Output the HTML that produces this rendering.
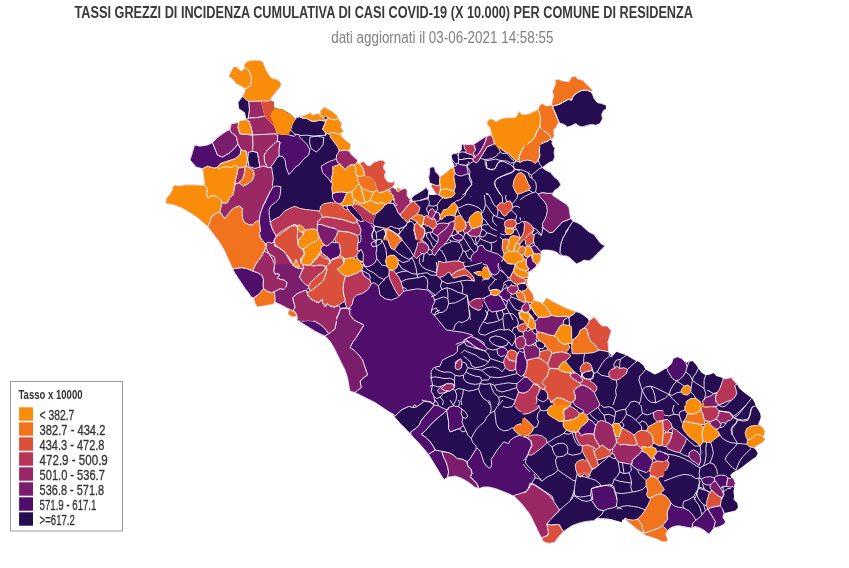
<!DOCTYPE html>
<html lang="it"><head><meta charset="utf-8"><title>Tassi grezzi di incidenza cumulativa</title>
<style>
html,body{margin:0;padding:0;background:#fff;}
body{width:849px;height:568px;overflow:hidden;}
svg{display:block;font-family:"Liberation Sans",sans-serif;}
.map polygon,.map path,.map polyline{stroke:#f3ecf7;stroke-opacity:.9;stroke-width:1.0;stroke-linejoin:round;}
.map path:first-child,.map path.n{stroke:none;}
</style></head><body>
<svg width="849" height="568" viewBox="0 0 849 568">
<rect width="849" height="568" fill="#fff"/>
<text x="74.5" y="17.7" font-size="15.8" font-weight="bold" fill="#3a3a3a" textLength="618.5" lengthAdjust="spacingAndGlyphs">TASSI GREZZI DI INCIDENZA CUMULATIVA DI CASI COVID-19 (X 10.000) PER COMUNE DI RESIDENZA</text>
<text x="331.2" y="43.4" font-size="16" fill="#808080" textLength="222.2" lengthAdjust="spacingAndGlyphs">dati aggiornati il 03-06-2021 14:58:55</text>
<g class="map">
<path d="M202.9,185.1 185.1,184.8 179.3,185.9 175.1,185.1 172.6,186.8 172.6,189.3 170.9,192.6 165.9,199.3 165.9,203.8 170.9,204.3 176.8,206 182.6,208.5 188.5,211.8 198.5,218.5 207.7,226.6 219.2,241.7 224.2,250.1 230.9,264.3 232.6,268.8 235.1,273.5 245.1,288.6 248.5,292.7 251,296.9 253.5,297.8 255.2,303.6 257.7,307 272.7,304.4 274.9,302.3 280.2,304.4 288.1,308.7 288.9,309.7 288.8,310.9 287.8,313.6 290.3,316.2 293.6,317 296.7,316.7 297.8,320.8 298.7,321 315,331.2 325,336.2 330,341.2 333.8,347.5 345,370 347.5,377.5 350,391.2 355,392.5 375,402.5 390,412.5 393.7,414.3 394.7,415.5 394.1,416.7 419.3,443.5 428.5,454.4 436,466.1 442.7,477.8 444.4,479.4 447.7,476.9 450.2,476.9 455.3,476.1 460.3,477.8 465.3,480.3 470.3,483.6 474.5,487 478.7,488.6 483.7,487 489.2,487.1 495.5,488.6 513.5,495.6 521.8,503.9 530.2,514.8 536.9,528.2 539.4,534 541.9,538.2 542.7,540.7 546.1,542.9 550.2,543.2 554.4,542.4 560.3,534.9 563.6,531.5 572,525.7 578.7,523.2 585.4,521.5 593.7,520.7 597.1,518.2 603.8,518.2 610.5,519 622,522.3 622,519.6 623.4,519.8 624.2,519 625.4,519.2 626.2,519.7 627.6,521.5 636.8,529 646.6,536 647.3,535.9 656.9,539.1 661.9,541.6 666.9,541.9 667.7,539.1 666.1,535.7 666.1,533.2 669.3,528.7 673.6,526.5 678.6,525.7 692,528.2 694.5,526.5 698.7,527.4 703.7,529.9 708.7,534 711.2,531.5 713.7,528.2 719.6,526.5 724.6,524 725.4,521.5 722.9,517.3 723.5,514.4 724.1,513.6 724.8,512.9 735.5,510.6 738,507.3 737.1,503.1 733.8,499.8 733.6,498.8 734.2,496.2 733.4,492.1 734.2,487.7 734.6,487.3 734.9,485.6 734.7,484.4 735.4,483.2 733.7,479.2 730.1,475.2 732.6,472.7 740.1,468.6 751.8,459.4 756,456.8 757.7,453.5 756,450.2 754.4,448.6 754.7,447.4 755.4,446.6 762.7,442.6 765.2,439.3 762.4,436.5 764.2,435.2 765,431.1 762.4,426.8 761.3,426.5 758.2,424 760.5,418.6 760.7,416.7 760.2,413.6 758,409.4 755.5,406.1 754.7,402.7 752.2,398.5 743,391.8 738.8,387.7 736.6,383.3 733.4,380.5 731.3,377.6 723.8,378.9 721.2,377.6 716.2,376 713.7,373.1 710.1,374.4 705.8,375.2 701.6,372.7 698.3,368.5 695.8,364.4 692.4,361 686.8,362.4 685.8,362.2 684.9,361.8 681.6,358.5 677.4,356.8 673.2,358.5 671.5,363.5 667.8,367.2 659,372.7 654.8,374.4 645.6,369.4 643.1,365.2 638.9,361.8 634.7,360.2 626.4,355.2 616.3,351.8 612.1,356.8 608.8,351.8 608,341.8 611.3,330.9 607.1,325.9 602.1,325.9 597.8,321.6 597.4,320.6 597.4,319.5 594.1,316.7 591.6,317.8 591.6,319.5 590.5,319.6 589.7,320.2 584,315.4 579.9,312.8 565.6,307.8 550.6,300.3 546.9,297.8 545.2,299.4 543.8,302 542.8,303 541.5,302.8 538.9,301.4 535.1,300.6 534.1,299.9 533.3,295 528.3,287.6 527.2,281.9 527.5,278.3 528,277.9 529.1,272 535.1,267.5 536.6,265.5 537.2,265.3 540.8,260.3 540.6,258.5 541.1,255.3 540.9,252 541.4,251.2 543,250.1 548.1,250.1 553.1,250.9 557.3,252.6 559.8,255.1 562.3,255.9 566.5,255.9 569.8,257.6 576.5,263.8 579.8,262.6 584,260.1 589,261 592.4,258.5 604.9,245.9 600.7,243.4 594.1,234.5 589.1,232 584.9,228.6 581.6,225.3 577.4,222.8 573.2,221.1 570.7,218.6 569,207.7 566.5,204.4 553,195.6 552,194.5 554.8,190.2 559,187.6 560.7,184.3 558.2,180.1 554,176.8 550.6,172.6 545.6,170.1 542.3,167.6 549,162.6 553.2,160.9 554.8,156.7 554,152.5 554.8,148.3 551.8,144.3 552.3,141.2 551.6,139.4 552.6,138.8 552.6,138.2 554.3,136.1 553.7,132.8 554,129.4 556.5,126.9 557.5,124.1 558.4,123 559.7,123 564,124.4 567.4,126.9 570.7,126.1 575.7,123.6 579.1,126.1 582.4,126.9 591.6,124.4 595.8,125.3 600,123.6 602.5,118.6 601.7,114.4 603.3,111 605.8,108.5 605.5,105.2 601.7,103.5 597.5,102.7 594.1,98.5 591.6,92.8 591.3,91.6 592.5,90.1 582.4,80.1 578.2,79.3 575.7,76.4 571.6,76.8 569,81.8 562.4,80.9 558.2,79.3 554.8,80.1 555.7,83.5 552.3,91.8 553.7,96 552.3,100.2 551.6,104.4 551,105 547.3,106 544.8,105.2 542.3,103.5 539.8,105.2 538.5,108.5 537.2,109.8 529.7,113.6 525.6,114.4 521.5,114.3 519.7,111.5 518,112.7 516.5,116.6 516,117 512.2,117.7 507.2,117.7 503,118.2 499.6,119.4 496.3,121.7 492.9,119.4 489.6,118.9 487.1,121.9 487.1,124.4 489.6,127 491.3,133.3 491.2,134.9 490.1,135 489.7,135.5 484.9,137.1 474.7,143.9 471.3,144.1 469.6,144.7 463.9,144.4 461.8,144.8 461.8,149.4 458.9,153 453.6,153.6 451.2,155.4 451.8,158.9 454.3,165.7 454.2,167.1 453.1,167.8 450.5,168.4 447.1,171.8 441.4,175.9 440.2,176.2 439.1,175.6 435.4,171.8 434.6,167.6 432.1,166.7 429.6,168.4 429.6,172.6 428.7,177.6 429.6,182.6 431,183.6 432.1,185 430.9,186.1 431.4,186.5 432.9,189.3 435.8,193.4 435.7,195 428.4,195 428.7,191 426.2,187.6 422.9,190.2 414.5,195.2 411.6,198.1 410.9,198.3 410.4,199.1 411.8,199.8 412.3,200.8 412.1,201.6 410.6,203.9 409.8,200.5 410.4,199.1 410.2,199.4 408.8,198.2 407,195.2 407.3,191 405.3,188.2 401.1,189.3 398.3,187.6 395.2,189.1 394,188.3 392.8,186.8 394.4,184.3 394.9,181 391.9,182.6 387.7,181.8 385.2,178.5 384.4,175.1 386.1,171.8 384.4,170.1 383.2,165.9 385.2,163.4 384.4,160.9 380.2,160.1 373.5,162.6 370.2,165.9 366.8,165.1 363.5,161.4 360.8,162.6 360.4,164 358.7,163.6 357.1,162.6 357.6,160.1 350.9,154.2 349.5,151.4 349.6,150.7 348.4,149.7 350.2,148.5 351,144.4 343.5,138.5 341.2,135.5 340.8,134.3 341.3,133.2 343.5,131 341,127.6 341.8,123.5 339.6,120.5 339.6,119.9 338.5,119.5 338.8,118.3 338.3,117.9 336.8,115.1 332.6,111.7 324.3,107.1 320.1,110.9 320.1,112.6 319.5,114.2 316.8,113.4 312.6,115.1 310.1,112.6 305.1,115.1 296.7,117.6 294.3,119.4 294,117.5 290,113.8 282.5,109.5 275.6,108.3 274.6,107.7 274.1,106.6 273.8,101.8 272.2,101.6 270.7,100.9 270.9,99.3 272.2,96.6 280.2,87.1 281.3,83.9 279.7,81.3 276.5,79.2 272.8,78.6 270.1,76.5 265.9,69.6 263.2,62.2 260.6,60.6 255.3,60.1 250,60.4 246.3,62.2 244.2,64.8 244.2,68 241.8,71.3 240.3,70.6 237.8,68 235.1,66.4 233,67.5 228.8,76 229.8,77.6 232,78.6 234.6,81.3 236.2,83.9 242,86.6 244.7,88.7 245.2,90.8 243.3,94.7 243.4,95.7 242.2,96 242.2,96.6 238,102.5 238.8,108.8 244.5,112.5 245.8,118.1 245.7,119.6 244.3,120.1 240,120.5 238.8,122.5 231.2,123.8 230,129.5 225,132 217.5,137.5 212.5,142.5 207.5,145 200,146.2 194.5,145 190,160 196.2,167 202.5,168.8 204.5,183.2 204.3,184.7Z" fill="#260c51"/>
<g fill="#260c51">
<polygon points="242.5,96.2 246.2,98.8 248.8,101.2 249.5,110 248.2,118.8 246.2,120 244.5,112.5 238.8,108.8 238,102.5"/>
<polygon points="248,152 252.5,151.2 257.5,152.5 258.8,160 260,167.5 255,168.8 248.8,167 247.5,160"/>
<polygon points="310,137 317.5,136.2 323.8,137.5 323,145 318.8,150 316.2,152 311.2,148.8 309.5,142.5"/>
<polygon points="411.2,198.5 414.5,195.2 418.7,192.7 422.9,190.2 426.2,187.6 428.7,191 428.4,195.2 428.7,198.5 424.5,199.4 420.4,200.5 416.2,201 412.8,201.9"/>
<polygon points="429.6,168.4 432.1,166.7 434.6,167.6 435.4,171.8 437.9,174.3 440.1,176.8 439.6,181 440.1,185.1 436.2,186 432.1,184.3 429.6,182.6 428.7,177.6 429.6,172.6"/>
<polygon points="385.2,204.4 388.6,202.7 393.6,203.5 396.1,207.7 397.8,211.9 400.3,215.2 402.8,217.8 405.3,220.3 407.8,221.9 406.1,225.3 402.8,227.8 398.6,228.6 394.4,227.8 391.1,226.1 386.9,228.6 382.7,227.8 378.5,227 374.4,226.1 372.7,223.6 373.5,219.4 376,213.6 379.4,211.1 382.7,207.7"/>
<polygon points="346.8,206 350.9,204.9 352.6,206 355.1,209.4 358.5,212.7 361.8,216.9 363.8,221.1 360.1,221.6 356.8,219.4 353.5,216.1 350.1,212.7 347.6,209.4"/>
<path class="n" d="M374.4,226.1 373.5,230.3 371.8,234.5 372.7,240.2 383.6,240.2 384.4,237 386.1,233.6 385.2,229.5 382.7,227.8 378.5,227Z"/>
<path class="n" d="M398.6,228.6 400.3,232 398.6,235.3 400.3,238.7 401.1,240.2 416.2,240.2 415.3,235.3 414,230.3 414.5,225.3 413.7,223.6 411.2,221.1 407.8,221.9 406.1,225.3 402.8,227.8Z"/>
<path class="n" d="M552.3,106 553.7,109.4 555.7,113.6 557.3,118.6 559,122.8 564,124.4 567.4,126.9 570.7,126.1 575.7,123.6 579.1,126.1 582.4,126.9 587.4,125.3 591.6,124.4 595.8,125.3 600,123.6 602.5,118.6 601.7,114.4 603.3,111 605.8,108.5 605.5,105.2 601.7,103.5 597.5,102.7 594.1,98.5 592.5,94.3 590.8,91.5 585.8,90.1 581.6,90.5 577.4,92.6 573.2,96 571.6,100.2 568.2,99.3 564,101.8 559,104.4 554.8,105.5Z"/>
<path class="n" d="M538.1,160.1 539.8,164.2 542.3,167.6 549,162.6 553.2,160.9 554.8,156.7 554,152.5 554.8,148.3 551.8,144.3 552.3,141.2 550.6,138.6 548.1,141.2 544.8,142 539.8,144.8 539.3,150.9 539.8,155.9Z"/>
<polygon points="542.3,167.6 545.6,170.1 550.6,172.6 554,176.8 558.2,180.1 560.7,184.3 559,187.6 554.8,190.2 552.3,193.5 547.3,193.5 542.3,192.7 538.1,194.3 535.6,191.8 536.4,186.8 535.6,181.8 532.2,178.5 531.4,175.1 535.6,171.8 539.8,168.4"/>
<polygon points="356.4,254.5 359,251.3 361,249.3 363.6,252.6 364.3,257.8 363,262.3 359.7,261 357.1,258.4"/>
<polygon points="573.2,221.1 577.4,222.8 581.6,225.3 584.9,228.6 589.1,232 594.1,234.5 595.8,237 597.4,239.2 600.7,243.4 604.9,245.9 602.4,248.4 599.1,251.8 595.7,255.1 592.4,258.5 589,261 584,260.1 579.8,262.6 576.5,263.8 573.2,261 569.8,257.6 566.5,255.9 562.3,255.9 559.8,252.6 560.3,246.7 561.4,241.7 563.1,237.5 565.6,233.4 568.1,229.2 565.7,232 569,227"/>
<polygon points="570.7,218.6 573.2,221.1 569,227 565.7,232 565.6,233.4 563.1,237.5 561.4,241.7 560.3,246.7 559.8,252.6 562.3,255.9 559.8,255.1 557.3,252.6 553.1,250.9 548.1,250.1 543,250.1 540.5,251.8 538,248.4 534.7,245.1 533,240.9 533.8,235 537.2,232.5 541.4,235.4 541.4,235.4 543.1,227.8 546.5,230.3 549.8,232.8 553.2,232 556.5,228.6 559,225.3 562.4,221.9 566.5,220.3"/>
<polygon points="517.1,284.4 522.1,283.2 526.3,283.5 528,287.7 525.8,290.6 521.3,291.6 518,289.4"/>
<polygon points="535.4,341.8 539.6,340.4 543.7,342.6 545.4,345.1 542.9,348.8 538.7,348.5 536.2,346"/>
<polygon points="569,316.7 573.2,314.5 575.7,311.5 579.9,312.8 584,315.4 588.2,318.7 589.6,320.9 587.1,325.1 583.7,328.4 580.4,330.1 578.7,334.3 576.2,337.6 572,340.1 570.3,335.1 569.5,326.7"/>
<polygon points="394.2,416.7 401.2,410 408.8,406.2 415.1,407.5 420.1,404.2 424.3,400.8 430.2,401.7 434.4,405 430.2,410 424.3,416.7 421,420.9 419.3,425.1 416,428.4 410.9,431.8 410.9,434.3 406.8,430.1 400.1,423.4"/>
<polygon points="421,434.3 425.2,430.9 430.2,425.1 435.2,420.1 440.2,415.9 444.4,412.5 446.9,410 447.7,415.1 448.6,421.7 448.6,428.4 450.2,431.8 455.3,430.1 459.4,428.4 462,431.8 466.1,430.9 467.8,435.1 471.2,438.5 472.8,442.6 476.2,446 475.3,450.2 472.8,454.4 470.3,458.5 467,461.9 462.8,459.4 456.9,458.5 453.6,455.2 448.6,452.7 443.6,451.8 438.5,451 435.2,450.2 433.5,446.8 430.2,441.8 426,437.6"/>
<polygon points="558.9,510.6 563.6,506.5 568.6,502.3 572,498.9 573.7,495.6 577.8,498.1 582,500.6 587,501.4 591.2,499.8 593.7,503.1 596.2,507.3 599.6,509.8 603.8,510.6 602.1,514 599.6,516.5 597.1,518.2 593.7,520.7 585.4,521.5 578.7,523.2 572,525.7 567,529 563.6,531.5 561.1,528.2 559.4,524.8 556.1,524.5 551.1,525.2 546.9,524 549.4,520.7 552.8,517.3 556.1,514"/>
<polygon points="451.2,155.4 453.6,153.6 456.6,153.6 458.3,155.9 458.7,159.5 458.3,163.6 456,164.2 453.6,161.8 451.8,158.9"/>
<polygon points="458.3,155.9 458.9,153 461.9,151.8 465.4,152.4 468.9,153.6 472.5,154.8 474.8,157.1 472.5,158.9 468.9,158.3 465.4,158.9 461.9,159.5 458.7,159.5"/>
<polygon points="458.7,159.5 461.9,159.5 465.4,158.9 468.9,158.3 472.5,158.9 473.7,161.2 470.7,163 468.3,164.8 465.4,165.4 461.9,165.1 458.9,164.8 458.3,163.6"/>
<polygon points="485.4,149.5 487.2,146.5 490.8,145.3 494.3,143.6 496.7,145.9 499,148.9 500.2,151.8 498.4,154.2 495.5,156.5 491.9,158.3 488.4,159.2 484.9,159.5 481.9,158.9 480.1,158.3 481.9,155.4 483.7,152.4"/>
<polygon points="582.5,373.6 585.4,371.8 589,371.2 592.3,370 593.7,373.6 592.5,377.1 590.7,379.5 587.2,379.5 584.2,378.3 582.5,375.9"/>
<polygon points="536.5,394.2 538.8,391.3 541.8,388.9 544.7,389.5 547.7,393 548.3,397.2 546.5,400.1 543.6,401.7 540,400.7 537.1,398.3 536.2,397"/>
<polygon points="497.4,262.7 500.3,259.8 503.7,258.5 505,261 507.4,263.3 510.4,263.9 513.9,263.9 515.4,265.1 514.2,268 513.5,271 511.5,274.5 510,278.1 507.4,276.9 504.5,273.3 501.5,269.8 499.2,266.3"/>
<polygon points="290.5,130 292.5,123.8 294.2,120.9 296.7,117.6 300,116.8 302.5,118.1 306.7,118.4 310.9,120.9 315.1,121.4 319.3,120.1 323.5,120.9 326,120.9 324.3,125.1 322.6,129.3 325.1,131.8 326,135.2 320.1,135.5 313.4,136 306.7,135.2 300,135.5 295,134.3"/>
</g>
<g fill="#4f0d6c">
<polygon points="194.5,145 200,146.2 207.5,145 212.5,142.5 215.5,150 217.5,155 222.5,157 230,152.5 235,147.5 238,143.8 241.2,150 240,155 235,158.8 227.5,161.2 220,163.8 217.5,167.5 212.5,168.8 207.5,166.2 202.5,168.8 196.2,167 190,160 192.5,152.5"/>
<path d="M278.8,150 278.8,156.2 282.5,156.2 285,160 286.2,167.5 288.8,174.5 291.2,172.5 295,167.5 300,163.8 303.8,158.8 308.8,155 309.9,148.9 308.8,148.3 307.5,145 300,137.5 299.7,136.5 300.3,135.6 300.1,135.2 295.2,134 295.2,135.5 294.4,136.3 289.1,135.1 288.9,134.7 280.1,134.2 277.9,133 277.6,133.4 277,141.2 280,142Z"/>
<polygon points="325,163.8 330,161.2 333.8,160 336.2,158.8 340,163.8 337.5,167.5 333.8,168.8 332.5,175 331.2,182.5 327.5,177.5 322.5,172.5 321.2,166.2"/>
<polygon points="336.7,192.2 341.7,191.8 346.8,192.7 345.1,196.8 343.4,201 340.1,204.4 336.7,203.5 334.2,201 332.5,197.7 332.5,193.5"/>
<path d="M320.2,249.3 321.3,252.6 328.1,257.6 330.4,261.3 332.6,258.7 336.2,257.8 339.5,255.8 340.8,252.6 339.5,244.1 336.9,242.1 334.3,242.8 331.7,242.1 329.1,244.7 326.5,246 323.9,244.7 321.3,246.7Z"/>
<path d="M272.5,186.8 261.6,209.4 260,214.4 259.1,220.3 260.4,231.1 259.3,232.5 260.2,237.5 263.5,241.7 266.9,245.1 269.2,242.7 271.9,243.7 274,241.7 274.4,239.8 276.6,236.4 274.6,232.8 274.1,232.7 271.1,225.8 269.2,215.2 269.2,209.4 270.8,206 275,202.7 279.2,198.5 280.4,193.5 280.9,186.8 276.7,186Z"/>
<polygon points="232.6,268.8 236.8,268.2 241.8,267.6 247.6,268.8 252.6,271 257.7,272.7 261.8,275.2 263.5,279.4 263.2,284.4 263.5,288.6 261,291.9 257.7,295.2 253.5,297.8 251,296.9 248.5,292.7 245.1,288.6 241.8,283.5 238.4,278.5 235.1,273.5"/>
<path d="M360.3,233.3 359.3,234.2 360.9,235.1 360.9,240.1 360.2,242.2 359.1,242.5 358.2,241.7 357.7,241.9 356.8,250.1 359,251.3 361,249.3 363.4,254.3 363,262.3 364.3,266 367.6,266.8 371.8,265.1 375.1,262.6 376.8,258.5 376,253.4 376.8,248.4 376,243.4 374.9,241.7 375.7,240.1 373.6,239.9 372.6,238.4 371.8,234.5 373.5,230.3 374.4,226.1 372.7,223.6 369.3,222.8 365.2,220.3 363.8,221.1 360.4,221.6 356.6,219.1 356.8,222 357.3,222.2 359.7,226.5 359.4,230.6Z"/>
<path d="M363.4,275.2 367.3,278.3 367.4,278.8 369.2,280.1 369.6,280 369.6,279 370.4,278.2 369.3,274.3 361.7,270.2Z"/>
<path d="M363.8,325 356.2,337.5 352.5,342.5 350,347.5 353.8,350 358.8,355 362.5,360 367.5,375 363.8,377.5 360,381.2 361.2,387.5 355,392.5 375,402.5 390,412.5 393.8,414.4 394.4,415.4 394.1,416.5 394.4,416.8 401.5,409.8 408.5,406.4 413.7,407.5 413.6,405.8 414,405.2 415,405 416,405.5 416.1,406.8 416.5,407 424.4,401.2 430.1,402 432.9,404.2 433.5,402.7 434.2,402.2 435,402.5 433.8,396.2 431.2,391.2 432.5,385 431.2,377.5 431.2,371.2 433.8,367.5 440,366.2 442.5,360 450,356.2 453.8,355 457.5,351.2 457.5,346.2 470,338.8 472.5,335 463.8,332.5 446.2,330 436.2,317.5 431.2,312.5 432.5,306.2 435,301.2 432.5,295 427.5,290 417.5,288.8 403.6,291.1 397.5,297.5 391.2,300 385,298.8 380,295 378.5,286 374.2,282.8 371,283.5 367.5,289.5 361.7,293.6 360,292.5 355,296.2 353.1,298.5 352.2,303.5 348.5,308.5 350,315 353.8,320Z"/>
<path d="M298.7,321 315,331.2 325,336.2 328.8,333.8 326.2,330 321.2,325 315,321.2 307.5,320.5 303.5,321.1 297.5,320 297.8,320.8Z"/>
<path d="M464.5,341.7 463.8,342.5 465.1,342.9 466.2,345.5 472.5,347.5 480,349.5 485,347.5 483.8,342.5 477.5,338.8 470,337 463.8,340Z"/>
<polygon points="486.2,297.5 495,295.5 503.8,296.2 507.5,302.5 505,308.8 497.5,311.2 490,308.8 487,303.8"/>
<path class="n" d="M481.4,262.1 481.9,262.6 482,263.5 483.7,264.3 486,264.9 486,264.9 486,265 486,265 486,265 486,265.1 486,265.1 486,265.1 486,265.2 486,265.2 486.1,265.2 486.1,265.2 486.1,265.3 486.2,265.4 486.3,265.4 486.3,265.5 486.3,265.6 486.4,265.7 486.4,265.8 486.4,265.9 486.4,265.9 486.4,266 486.4,266.1 486.3,266.2 486.3,266.3 486.3,266.4 486.2,266.4 486.1,266.5 486.1,266.6 486,266.6 485.9,266.7 485.9,266.7 485.8,266.7 485.7,266.8 485.7,266.8 485.6,266.8 485.6,266.8 485.6,266.8 485.6,266.9 485.5,266.9 485.5,266.9 485.5,266.9 485.5,267 485.5,267 485.5,267 485.5,267.1 485.5,267.1 485.5,267.1 485.5,267.2 485.5,267.2 485.5,267.2 485.5,267.3 485.5,267.3 485.5,267.3 485.6,267.3 485.6,267.4 485.6,267.4 485.6,267.4 485.7,267.4 485.7,267.4 485.7,267.4 487.6,267.9 489.9,274.8 489.9,274.8 490,274.8 490,274.9 490,274.9 490,274.9 490,274.9 490.1,275 490.1,275 490.1,275 490.2,275 490.2,275 490.2,275 490.3,275 490.3,275 490.3,275 490.4,275 490.4,275 490.4,275 490.5,274.9 490.5,274.9 490.5,274.9 490.5,274.9 490.6,274.8 490.6,274.8 490.6,274.8 490.6,274.7 490.6,274.6 490.6,274.6 490.7,274.5 490.7,274.4 490.8,274.3 490.8,274.3 490.9,274.2 491,274.1 491,274.1 491.1,274.1 491.2,274 491.3,274 491.4,274 491.5,274 491.5,274 491.6,274 491.6,274 491.6,273.9 491.7,273.9 491.7,273.9 491.7,273.9 491.7,273.9 491.8,273.8 491.8,273.8 491.8,273.8 494.5,275.2 497.9,273.5 499.5,270.3 499.6,270.3 499.6,270.3 499.6,270.3 499.7,270.3 499.7,270.3 499.7,270.3 499.7,270.3 499.8,270.2 499.8,270.2 499.8,270.2 499.8,270.2 499.8,270.1 499.9,270.1 499.9,270 500,269.9 500,269.8 500.1,269.8 500.2,269.7 500.3,269.7 500.3,269.7 500.4,269.6 500.5,269.6 500.6,269.6 500.7,269.6 500.8,269.6 500.9,269.6 501,269.7 501,269.7 501.1,269.7 501.1,269.7 501.1,269.7 501.2,269.7 501.2,269.7 501.2,269.7 501.3,269.7 501.3,269.7 501.3,269.7 501.4,269.7 501.4,269.7 501.4,269.7 501.5,269.7 501.5,269.6 501.5,269.6 501.5,269.6 501.5,269.6 501.6,269.5 501.6,269.5 501.6,269.5 501.6,269.4 501.6,269.4 501.6,269.4 501.6,269.3 501.6,269.3 501.6,269.3 501.5,269.2 501.5,269.2 499.5,266.1 498.6,264.3 498.6,264.3 498.6,264.3 498.5,264.2 498.5,264.2 498.5,264.2 498.5,264.2 498.4,264.2 498.4,264.2 498.4,264.1 498.7,262.8 502.1,261 503.7,258.5 497.8,254 487.1,250.4 484.4,248.7 483.1,245.7 480.1,245.1 477.8,247.5 477.1,251 474.2,252.8 471.9,255.1 470.7,258.7 471.9,262.1Z"/>
<path d="M484,301.1 488.7,309.5 492,312 500.4,310.6 505,308.8 506.3,307 501.7,298.6 498.8,294.5 495.3,295.4 490.4,294.1 489.6,295.6 488.7,295.6 484.5,297.8Z"/>
<path d="M501.7,298.6 505.8,300.3 506.8,301.5 507.6,300 508.8,299.9 511.3,296.9 510.6,295.2 512.1,293.8 509.5,292.4 507.9,287.7 504.6,288.2 498.5,294.4 499.6,296.2 501.4,296.4Z"/>
<path d="M467.6,340.9 475.2,346.8 480,349.5 485.2,351 487.7,348.5 484.4,345.1 479.3,340.9 474.3,337.6 472.6,337.4 471.8,335.9 470.7,337.1 470,337 466,338.8Z"/>
<path d="M497.7,354.3 501.1,356.8 504.4,355.5 505.3,356.1 505.9,357.3 506.9,356.1 508.1,351.7 505.3,348.1 501.1,347.1 496.9,349.3Z"/>
<path d="M516.1,358.5 515.3,368.5 517,373.6 521.2,376.6 524.5,374.4 526.2,370.2 527.3,365.2 527,360.2 525.4,357.5 524.5,351.7 523,352.4 519.5,351 517.3,354.3Z"/>
<path d="M516.6,387.8 518.6,392 522.8,393.3 527,392 530.2,388.8 530.6,388.9 534,383.5 527,376.9 524.5,376.9 517,383.6Z"/>
<path d="M667.7,371 672.4,378.6 676.5,381.1 679.9,379.4 683.2,376.1 685.7,371.9 687.1,366.9 686,363.6 686.6,362.3 685,361.9 681.6,358.5 677.4,356.8 673.2,358.5 671.5,363.5 667.6,367.4 666,368.2 667.5,369.2Z"/>
<path d="M653.6,456.8 655.6,460.2 659.8,462.7 664,461.9 667.3,460.2 669,456.8 666.5,453.5 659,451 657.6,451.7 656.1,451.2 656.2,452.4 654,453.5Z"/>
<path class="n" d="M472,473.6 470.3,476.9 477,483.6 478.7,488.6 483.7,487 489.2,487.1 495.5,488.6 513.5,495.6 515.1,495.2 522.2,495.2 522.5,493.1 525.3,492 527.9,489.5 531.3,483.9 531.3,483.9 532.1,484.3 532.1,484.4 532.2,484.4 532.2,484.4 532.2,484.4 532.3,484.4 532.3,484.4 532.3,484.4 532.4,484.4 532.4,484.4 532.4,484.3 532.5,484.3 533,484 533,484 533,483.9 533,483.9 533.1,483.9 533.1,483.9 533.1,483.8 533.1,483.8 533.1,483.8 533.1,483.7 533.1,483.7 533.1,483.6 533.1,483.6 533.1,483.6 533.1,483.5 533.1,483.5 533,483.5 533,483.5 533,483.4 533,483.4 532.9,483.4 532.9,483.4 532.8,483.3 532.7,483.2 532.7,483.2 532.6,483.1 532.6,483 532.5,483 532.5,482.9 532.5,482.8 532.5,482.7 532.5,482.6 532.5,482.5 532.5,482.5 532.5,482.5 532.5,482.4 532.4,482.4 532.4,482.4 532.4,482.4 532.4,482.3 532.4,482.3 532.4,482.3 532.3,482.3 532.3,482.2 535,477.8 534.7,477.1 535.2,476.3 533.5,473 530.9,472.8 525.3,466.9 522.2,462.8 522.3,461.6 525.3,458.5 527.9,454.8 529.5,450.2 532,446 531.2,441 528.7,438.5 526.8,437.7 526.8,437.7 526.8,437.7 526.8,437.6 526.8,437.6 526.8,437.6 526.8,437.5 526.8,437.5 526.8,437.5 526.8,437.4 526.8,437.4 526.7,437.4 526.7,437.3 526.6,437.2 526.6,437.1 526.6,437.1 526.5,437 526.5,436.9 526.5,436.8 526.5,436.7 526.5,436.6 526.6,436.5 526.6,436.5 526.6,436.4 526.7,436.3 526.7,436.2 526.8,436.2 526.8,436.2 526.8,436.1 526.8,436.1 526.8,436.1 526.8,436 526.8,436 526.8,435.9 526.8,435.9 526.8,435.9 526.8,435.8 526.8,435.8 526.7,435.8 526.7,435.8 526.7,435.7 526.7,435.7 526.6,435.7 526.6,435.7 526.6,435.7 526.5,435.7 526.5,435.7 526.5,435.7 526.4,435.7 526.4,435.7 526.4,435.7 526.3,435.7 524.5,436.4 519.9,434.8 518.9,434 518.9,434 518.9,434 518.8,434 518.8,434 518.8,434 518.7,434 518.7,434 518.7,434 518.6,434 518.6,434 518.6,434 518.5,434 518.5,434 518.5,434.1 518.4,434.1 518.4,434.1 518.4,434.1 518.4,434.2 518.4,434.2 518.4,434.2 518.4,434.3 518.4,434.3 518.4,434.3 518.4,434.4 518.4,434.4 518.4,434.4 518.4,434.5 518.4,434.6 518.5,434.7 518.5,434.8 518.5,434.9 518.4,435 518.4,435.1 518.4,435.1 518.4,435.2 518.3,435.3 518.3,435.4 518.2,435.4 518.2,435.5 518.2,435.5 518.2,435.5 518.2,435.6 518.2,435.6 518.2,435.6 518.2,435.7 518.2,435.7 518.2,435.7 518.2,435.7 513.8,437.6 509.6,441 509,443 508.6,443.5 508.1,443.5 503.8,441.8 497.1,450.2 491.2,459.4 491.7,464.4 490.7,467.7 490.3,468.1 489.6,468.1 486.1,465.9 483.7,461.9 480.4,451.8 477.2,448 477.2,448 477.3,447.9 477.3,447.9 477.3,447.9 477.3,447.8 477.3,447.8 477.3,447.8 477.2,447.7 477.2,447.7 477.2,447.7 477.2,447.6 477.2,447.6 477.2,447.6 477.1,447.6 477.1,447.5 477.1,447.5 477,447.5 477,447.5 476.9,447.5 476.8,447.4 476.7,447.4 476.7,447.4 476.6,447.3 476.5,447.2 476.5,447.2 476.4,447.1 476.4,447 476.4,446.9 476.3,446.9 476.3,446.8 476.3,446.8 476.3,446.8 476.3,446.7 476.2,446.7 476.2,446.7 476.2,446.7 476.2,446.7 476.1,446.6 476.1,446.6 476.1,446.6 476,446.6 476,446.6 476,446.6 475.9,446.6 475.9,446.6 475.9,446.6 475.8,446.7 475.8,446.7 475.8,446.7 475.7,446.7 475.7,446.7 475.7,446.8 475.7,446.8 475.7,446.8 475.7,446.9 475.7,446.9 475,450.1 472.5,454.2 470.3,457.8 470.3,457.8 470.3,457.9 470.3,457.9 470.3,457.9 470.3,458 470.3,458 470.3,458 470.3,458.1 470.3,458.1 470.3,458.1 470.3,458.2 470.3,458.2 470.4,458.2 470.4,458.2 470.4,458.3 470.4,458.3 470.3,458.5 467,461.9 467.8,466.1 471.2,469.6Z"/>
<path d="M578,430.9 581.4,435.9 583.9,434.3 588.9,433.8 593.9,434.3 595.5,426.2 596.6,424.7 594.8,424.5 593.1,421.7 588.6,419.2 586.4,422.6 583,425.1 579.7,428.4Z"/>
<path d="M633.2,466.9 637.4,469.4 646.6,472.7 649.9,469.4 651.6,465.2 653.5,462.4 652.3,461.3 652.5,459.9 646,452.9 646,452.5 641.5,450.7 638.8,454.5 635.7,456.8 632.4,460.2 631.6,464.4Z"/>
<path class="n" d="M591.4,488.6 590.6,495.3 592.2,500.2 617.3,500.2 616.5,497 615.7,492.8 614,488.6 610.6,486.1 605.6,485.3 600.6,486.1 595.6,487Z"/>
<polygon points="410.9,431.8 416,428.4 419.3,425.1 421,420.9 424.3,416.7 430.2,410 434.4,405 438.5,405.9 443.6,408.4 446.9,410 444.4,412.5 440.2,415.9 435.2,420.1 430.2,425.1 425.2,430.9 421,434.3 426,437.6 430.2,441.8 433.5,446.8 435.2,450.2 428.5,454.4 424.3,449.3 419.3,443.5 413.5,437.6 410.9,434.3"/>
<path d="M448.4,409.3 446.6,410.2 448.6,421.7 448.6,428.4 450.2,431.8 459.1,428.5 460,429.2 460.3,427.9 463.6,425.9 462,421.7 462.8,417.6 461.1,413.4 462,409.2 458.6,406.7 453.6,405.9 448.6,407.5Z"/>
<path d="M428.5,454.4 442.7,477.8 444.4,479.4 447.7,476.9 448.6,471.9 447.7,466.9 446.1,461.9 443.6,456.9 442,452.2 443.7,452.1 443.9,451.6 435.2,450.2Z"/>
<path d="M591.4,488.6 592.9,499.8 591.8,498.7 591,500.1 593.9,503.4 596.2,507.3 599.6,509.8 603.8,510.6 607.1,509 612.1,508.1 616.3,506.5 617.1,501.4 616.5,497 614.6,491.4 613.8,486.4 610.5,484.7 603.8,485.5Z"/>
<path d="M667.7,510.6 666.9,514.8 667.7,519 662.7,525.7 667.6,531 669.1,528.8 673.6,526.5 678.6,525.7 692,528.2 692.8,523.2 695.1,520.9 696.5,520.2 695,519.3 694.5,517.3 692,514 688.6,510.6 683.6,508.1 678.6,507.3 673.6,505.6 671.1,503.1Z"/>
<polygon points="692.8,523.2 695.3,520.7 698.7,518.2 702,514.8 705.4,510.6 707.9,509 710.4,513.1 712.9,517.3 715.4,521.5 714.6,525.7 713.7,528.2 711.2,531.5 708.7,534 703.7,529.9 698.7,527.4 694.5,526.5 692,528.2"/>
<path d="M707.9,509 715.4,521.5 713.7,528.2 719.6,526.5 724.6,524 725.4,521.5 722.9,517.3 723.6,514.2 724.6,513 723.6,512.4 722.9,509.8 720.4,505.6 711.2,507.3Z"/>
<path d="M702.9,483 706.2,485 709.4,484.8 710.5,485.7 710.7,484.5 713.7,481.7 715.4,481.4 714.6,478 710.4,476.7 705.4,477.2 701.2,478.9Z"/>
<path d="M715.1,481.5 720.5,488.8 721.5,487.2 726.3,486.4 727.9,478 725.4,475.5 720.4,475 715.4,476.3 715.4,477 714.2,478Z"/>
<path d="M461.3,176 468.3,173.6 466.7,166.3 467.3,165 465.1,165.4 462.2,165.1 462,164.8 459.1,164.5 458.3,163.3 456,163.8 456.3,165.9 455.7,166.3 454.3,165.9 454,166.9 453.2,167.6 454.3,172.8 457.7,175.4Z"/>
<path d="M474.3,145.4 475.4,150.6 473.1,153 474.8,157.1 479,153.6 482.5,147.7 486,140 486.6,136.5 484.9,137.1 474.7,143.8 471.1,144.2 471.2,144.7Z"/>
<path d="M434.2,218.4 436.2,222.8 437.3,221.5 438.3,221.5 440,219.2 440.6,216.8 438.9,212.7 435.9,212.1 434.4,213.7 433.3,216.6 432.6,217.3Z"/>
<path d="M452.8,238 454.8,239.6 458.3,240.4 461.9,239.8 463.4,237.5 461.9,235.1 458.2,233.7 458.4,232.2 458,231.9 457,232.3 457.3,233.4 456.7,234.4 452.4,235.7Z"/>
<path d="M530.4,246.8 533.3,253.3 536.3,254.2 538.9,253.4 540.5,255.6 541,255.5 540.9,252.4 541.3,251.3 540.6,251.3 534.7,245.1Z"/>
<path d="M526.3,259.8 526,262.7 526.9,266.3 529,268.6 527.3,270.2 528.5,270.7 529.2,271.9 535.1,267.5 536.9,265.1 535.7,263 533.3,261.6 532.2,258 532.2,254.5 527.5,257.4Z"/>
</g>
<g fill="#7a1d6d">
<polygon points="225,132 230,129.5 231.2,132.5 236.2,136.2 238,143.8 235,147.5 230,152.5 222.5,157 217.5,155 215.5,150 212.5,142.5 217.5,137.5"/>
<path d="M540.6,197.7 544,201 546.5,205.2 547.3,210.2 546.5,215.2 544.8,219.4 542.3,223.6 543.1,227.8 549.8,232.8 553.2,232 562.4,221.9 570.7,218.6 569,207.7 566.5,204.4 552.8,195.5 552.3,194.4 552.5,193.2 547,193.4 542.3,192.7 538.1,194.3Z"/>
<path d="M316.7,229.1 319.3,237.6 321.3,241.5 323.9,244.7 326.5,246 329.1,244.7 331.5,242.3 333.2,242.6 332.9,240.9 334.3,239.5 336.2,236.3 337.4,232.7 338.5,231.1 336.3,228.8 329.1,227.1 321.3,224.5 317.3,224.5Z"/>
<path d="M264.4,250.9 274.4,256.8 275.2,261 273.6,271 275.2,274.3 278.6,273.5 279.4,276 276.9,277.7 280.2,279.4 284.4,280.2 286.9,282.7 286.1,286.9 283.6,289.4 280.2,288.6 274.4,291.9 274.9,302.3 280.2,304.4 292.8,311.1 295.3,307 293.6,301.9 292.8,297.8 296.1,294.4 301.2,291.9 306.2,290.2 307.8,288.6 309.5,288.6 309,285.8 305.1,284.1 302,281 299.5,276.8 302.8,268.8 297.8,268.2 293.6,266 290.3,261.8 286.1,253.9 282.2,250 278.2,247.3 274.4,245.9 270.2,243.4 266.9,245.1Z"/>
<path class="n" d="M340.5,308.6 338.8,313.6 337.1,317 336.3,320.2 352.2,320.2 352.2,309.5 348.8,308.6 345.5,307.8Z"/>
<polygon points="348.8,308.6 350,315 353.8,320 358.8,322.5 363.8,325 360,331.2 356.2,337.5 352.5,342.5 350,347.5 353.8,350 358.8,355 362.5,360 365,367.5 367.5,375 363.8,377.5 360,381.2 361.2,387.5 355,392.5 350,391.2 348.8,385 347.5,377.5 345,370 341.2,362.5 337.5,355 333.8,347.5 330,341.2 325,336.2 330,332.5 335,328.8 336.2,322.5 335,315 336.2,310 342.5,308"/>
<polygon points="471.2,302.5 476.3,298.6 481.2,301.2 482.5,306.2 478.8,310.3 474.6,308.6"/>
<polygon points="437.5,390.3 441.7,386.1 446.2,383.8 452.5,383.8 454.8,386.1 452.6,389.4 448.4,391.1 443.4,392.8 439.2,393.6"/>
<path d="M523.9,334.9 522.6,336.2 525.3,339.6 525.7,344.3 527.8,346 532,345.1 534.1,343.1 535.8,343.5 535.8,342 537.2,341.5 536,340 536.3,339 537.9,338.4 537.1,337.4 537.2,334.1 534.9,334.2 532.1,330.8 532.4,329 531.3,329.3 530.2,328.7 529.9,330.3 527.6,331.4 526.6,330.9 526.1,329.8 522.8,331.7Z"/>
<path d="M536.1,320.6 534,321.3 535.3,324.3 534.7,328.4 536.3,329 537,331.7 544.6,333.4 549.6,335.1 554.6,335.9 559.6,326.7 563,324.2 563.8,320 567.6,317.6 569.2,318.3 569.3,316.7 564,315.9 558.1,316.3 551.4,315 547.8,316.7 539.2,317.3 538.3,316.6 538.2,318Z"/>
<path d="M540.4,352.6 539.3,349.9 540.1,348.4 538.5,348.3 536.4,346.2 536.1,344.6 534.8,345.7 533.8,345.5 533.1,343.7 531.7,345.2 528.1,345.9 525.6,344 523.5,347.8 522.7,348.2 523.8,349.1 525.3,358 526.9,360.5 532.9,358.7 536.2,359.3 539.6,356.8Z"/>
<polygon points="702.5,401 705.3,397.7 710.3,396 713.7,393.9 717,392.7 715.4,397.7 716.2,401.9 718.7,405.2 715.4,406.9 710.3,406.6 707,406.9 703.7,406.1"/>
<polygon points="709.5,422 712.9,420.3 716.2,418.9 719.5,421.1 721.2,424.5 719.5,427.8 716.2,429.5 712.9,427.8 710.3,425.3"/>
<polygon points="689.1,452.7 693.3,449.8 697.5,451.8 700,455.2 700.8,460.2 699.1,465.5 695.8,462.7 691.6,460.2 688.8,456.8"/>
<polygon points="441.9,451.8 443.6,451.8 448.6,452.7 453.6,455.2 456.9,458.5 462.8,459.4 467,461.9 467.8,466.1 471.2,469.4 472,473.6 470.3,476.9 473.7,480.3 477,483.6 478.7,488.6 474.5,487 470.3,483.6 465.3,480.3 460.3,477.8 455.3,476.1 450.2,476.9 447.7,476.9 448.6,471.9 447.7,466.9 446.1,461.9 443.6,456.9"/>
<path d="M711.5,489.8 711.4,491.2 712.4,490.8 718.7,496.4 722.1,498.1 723.8,494.7 722.1,490.6 715.5,481.1 713.5,481.4 713.4,481.9 710.4,484.7 710.1,488.1Z"/>
<path d="M726.3,486.4 731.3,487.2 732.8,486.4 734.1,487.5 734.6,487.3 734.8,484.5 735.4,483.2 733.7,479.2 731.9,476.9 730.5,478.5 727.9,478Z"/>
<path d="M573.6,390.7 575.4,396.6 574.8,399.5 573,401.9 574.8,405.4 583.5,410.7 583.6,411.7 582.8,412.8 586.3,415.4 599,406.6 599.6,403.7 594.3,392.5 591.3,389.5 587.8,387.1 584.2,385.4 581.3,384.8 576,388.3Z"/>
<polygon points="433,229.2 435.3,227.4 437.1,224.5 440,223.3 443.6,223.1 447.1,223.5 449.5,222.7 448.3,225.7 445.9,228.6 443,231 440,233.3 437.7,235.7 434.7,234.5 432.4,232.1"/>
<path d="M448.3,225.7 445.9,228.6 440,233.3 437.7,235.7 438.3,238.6 437.7,242.2 431.8,250.4 432.4,254 434.7,255.7 438.9,249.2 446.5,242.2 450.6,235.5 452.2,235.4 451.8,234 453.6,230.4 455.4,223.3 453.6,220.9 449.5,222.7Z"/>
</g>
<g fill="#9a2865">
<polygon points="248.8,101.2 261.2,100.8 263,107.5 265,116.2 257.5,117.5 250,118 248.2,118.8 249.5,110"/>
<path d="M251.2,127.5 252.5,135 275.5,134 277,132.8 274.1,124.8 273.5,124.8 269.5,121.2 265,116.2 257.5,117.5 250.3,118 249.9,117.7 246,119.7 246,120.3 249.1,121.5 248.8,122.5Z"/>
<path d="M231.2,132.5 236.2,136.2 238,143.8 241.2,150 245.9,151.1 247.2,160.1 247.7,160.3 248.3,152.3 252.8,151.3 253.3,143.8 253,143.5 252.5,135 240,133.8 238,127.5 238.8,122.5 231.2,123.8 230,129.5Z"/>
<path d="M253,143.8 252.5,151.2 257.5,152.5 260,167.5 263.8,166.2 267.5,167.5 264.5,161.2 264.2,155 267.5,150 276.7,141.4 277.3,141.4 277.8,135 276.3,135 275.7,134.7 275.5,133.8 252.5,135Z"/>
<path d="M267.5,150 264.2,155 264.5,161.2 267.3,167.2 267.2,167.7 271.3,167.9 271.6,167.6 271,166.7 271.2,165.6 272.5,165 277.6,156.9 279.1,156.2 278.9,149.7 280,142 277,141.2Z"/>
<polygon points="336.7,155 339.2,150.9 345.1,150 349.3,150.9 350.9,154.2 353.5,156.7 357.6,160.1 357.1,162.6 354.3,164.7 350.1,165.1 346.8,167.6 345.1,170.1 342.6,166.7 340,163.8 337.6,162.6 336.2,158.8"/>
<path d="M394.4,201.9 393.3,203.7 394.2,205 395.3,203.7 396.1,203.6 396.9,204.4 396.7,205.3 394.9,205.6 394.7,206 396.2,208 397.8,211.9 400.3,215.2 404.5,209.4 410.3,202.7 409.7,200.4 410.2,199.8 410.8,199.5 411.7,199.7 412,199.3 411.3,198.2 410.1,198.9 408.9,198.4 407,195.2 407.3,191 405.3,188.2 397.2,190.9 396.3,188.5 395.2,188.8 394.1,188.4 392.8,186.8 388.8,189.1 390.2,190.1 390.2,192.7 392.8,195.2Z"/>
<path d="M224,203.5 221.2,201 221.6,203.9 220.3,207.6 220.5,208 219.8,211.9 224.8,218.6 232.4,209.4 234.5,207.8 239.3,206.2 242.4,208.6 241.6,213.6 242.4,218.6 244.1,222.8 248.2,224.4 252.4,225.3 255.9,221.8 259.3,220.6 260,214.4 263.3,205.2 270.6,190.5 271.1,190.4 272.7,187.1 273.5,186.7 272.4,185.4 273.3,178.5 271.7,167.6 267.8,167.5 263.8,165.9 255,168.4 249.1,166.7 247.8,159.9 247.3,159.7 245.9,165.9 244.9,166.6 247.3,167 253.4,170.4 254.1,175.1 252.4,180.1 248.2,183.5 243.2,186 239,182.6 234.9,184.3 233.2,194.3 229.8,197.7 227.3,202.7Z"/>
<polygon points="237.9,167.6 241.2,167.5 244.6,166.4 244.9,170.1 244.1,175.1 242.4,179.3 239,182.6 234.9,184.3 235.7,178.5 237.4,172.6"/>
<path class="n" d="M268.5,242.1 264.6,244.7 266.5,248.6 269.1,253.9 272.4,259.1 274.3,264.2 292.6,264.2 290,259.1 286.1,253.9 282.2,250 278.2,247.3 275,244.7 273.7,241.5 271.7,243.4Z"/>
<polygon points="264.4,250.9 266.9,252.6 271,255.1 274.4,256.8 275.2,261 274.4,266 273.6,271 275.2,274.3 278.6,273.5 279.4,276 276.9,277.7 280.2,279.4 284.4,280.2 286.9,282.7 286.1,286.9 283.6,289.4 280.2,288.6 276.9,290.2 274.4,291.9 271,292.7 266.9,291.1 263.5,288.6 263.2,284.4 263.5,279.4 261.8,275.2 257.7,272.7 252.6,271 255.2,265.1 258.5,260.1 261.8,255.9"/>
<path class="n" d="M293.6,301.9 295.2,306.9 292.8,311.1 295.4,312.3 296.9,315.9 295.7,316.1 295.7,316.2 295.6,316.2 295.6,316.2 295.6,316.2 295.6,316.2 295.5,316.2 295.5,316.3 295.5,316.3 295.5,316.3 295.5,316.4 295.4,316.4 295.4,316.4 295.4,316.5 295.4,316.5 295.4,316.5 295.5,316.6 295.5,316.6 295.5,316.6 295.5,316.7 295.5,316.7 295.5,316.7 295.6,316.7 295.6,316.8 295.6,316.8 295.6,316.8 295.7,316.8 295.7,316.8 295.7,316.8 295.8,316.8 295.8,316.8 295.9,316.8 296,316.8 296,316.8 296.1,316.8 296.2,316.8 296.3,316.8 296.4,316.9 296.4,316.9 296.5,316.9 296.6,317 296.7,317 296.7,317.1 296.8,317.2 296.8,317.2 296.8,317.3 296.9,317.4 296.9,317.5 297.5,320.2 297.5,320.3 297.5,320.3 297.5,320.3 297.5,320.3 297.5,320.4 297.5,320.4 297.6,320.4 297.6,320.4 297.6,320.5 297.6,320.5 297.7,320.5 297.7,320.5 297.7,320.5 297.8,320.5 297.8,320.5 297.8,320.5 297.9,320.5 297.9,320.5 297.9,320.5 298,320.5 298,320.5 298,320.4 298,320.4 298.1,320.4 298.1,320.4 298.1,320.3 298.1,320.3 298.1,320.3 302.5,321.2 307.5,320.5 315.1,321.3 321.3,325.1 326.2,330 328.8,333.8 335,328.8 336.2,322.5 336.3,320.2 337.1,317.1 338.8,313.6 340.5,308.6 338.8,305.3 334.4,307 330.4,306.1 327.1,303.6 325.9,306 324.9,306.2 322.9,303.6 322.1,299.4 319,302.5 318.4,302.7 314.5,301.1 310.4,298.6 307.8,295.2 307,291.9 306.2,290.2 301.2,291.9 296.1,294.4 292.8,297.8Z"/>
<polygon points="417.8,242.6 422,241.7 426.1,243.4 428.6,246.7 427.8,250.9 423.6,252.6 420.3,255.1 416.1,258.5 413.6,255.9 415.3,251.8 416.9,246.7"/>
<path class="n" d="M471.3,307 474.6,308.6 478.8,310.3 482.2,308.6 482.2,301.9 482.2,301.9 482.2,301.9 482.3,301.9 482.3,301.9 482.3,301.9 482.4,301.8 482.4,301.8 482.4,301.8 482.5,301.8 482.5,301.8 482.5,301.7 482.6,301.6 482.6,301.6 482.7,301.5 482.7,301.4 482.8,301.4 482.9,301.3 483,301.3 483,301.3 483.1,301.3 483.2,301.2 483.3,301.2 483.4,301.2 483.5,301.3 483.6,301.3 483.6,301.3 483.7,301.3 483.8,301.4 483.8,301.4 483.9,301.4 483.9,301.4 483.9,301.4 484,301.4 484,301.4 484,301.4 484.1,301.4 484.1,301.4 484.1,301.4 484.2,301.4 484.2,301.4 484.2,301.4 484.3,301.3 484.3,301.3 484.3,301.3 484.3,301.2 484.3,301.2 484.3,301.2 484.3,301.2 484.6,299.2 484.6,299.1 484.6,299.1 484.6,299.1 484.6,299 484.6,299 484.6,299 484.6,298.9 484.6,298.9 484.6,298.9 484.5,298.9 484.5,298.8 484.5,298.8 484.4,298.8 484.4,298.8 484.4,298.8 484.3,298.8 484.3,298.8 484.3,298.8 484.2,298.8 484.2,298.8 484.2,298.8 484.1,298.8 484.1,298.8 484.1,298.9 484.1,298.9 484,298.9 484,298.9 484,299 483.9,299.1 483.8,299.1 483.7,299.2 483.7,299.2 483.6,299.2 483.5,299.3 483.4,299.3 483.3,299.3 483.2,299.3 483.1,299.3 483.1,299.2 483,299.2 482.9,299.2 482.8,299.1 482.7,299.1 482.7,299 482.6,299 482.6,298.9 482.5,298.8 482.5,298.8 482.5,298.8 482.5,298.7 482.4,298.7 482.4,298.7 482.4,298.7 482.3,298.7 482.3,298.6 482.3,298.6 482.2,298.6 482.2,298.6 482.2,298.6 482.2,298.3 476.3,298.6 472.1,300.3 468.8,303.6Z"/>
<polygon points="455,362.5 458.8,359.5 462,362.5 461.2,368 457,369.5"/>
<polygon points="441.2,388.8 446.2,383.8 452.5,383.8 454.5,387.5 450,391.2 445,390.5"/>
<path d="M509.6,292.7 512.9,294.4 516.3,293.2 517.6,290.4 518.9,289.8 518.3,289.2 517.3,284.1 516.2,283.8 516.2,285.2 515.3,286 511.3,285.5 507.9,287.7 507.4,290.2Z"/>
<path d="M521.8,309.5 523.8,312.8 528,312 530.5,308.6 529.7,304.9 528.8,304.5 528.5,303.8 529.2,302.2 525.8,301.3 524.2,301.7 525,302.8 525.1,303.9 522.1,306.1Z"/>
<polygon points="455.1,365.2 457.6,361 460.9,358.8 462,362.5 461.2,368 458.4,369.9 455.4,368.5"/>
<polygon points="515.3,340.1 518.6,336.8 522.8,335.9 525.3,339.3 525.7,344.3 523.7,348.1 519.5,349.3 516.1,346.8"/>
<path d="M720.4,423.7 720.9,423.8 721.3,423 722.2,422.5 726.2,423.3 727.1,421.1 730.4,420.3 732.9,417.8 732.1,414.4 729.6,412.3 721.2,411.1 720.6,411.5 718.9,410.9 718.3,415 715.9,418.9 719.2,421.3Z"/>
<path d="M668.4,443.2 665.6,446.4 667.5,447.6 667.3,448.8 675.7,451.8 679.9,452.7 684.9,443.5 686.6,438.5 676.5,430.1 672.2,427.3 670.8,428.5 672.4,429.5 672.4,431.6 671.4,432.5 672.3,432.9 670.7,438.5Z"/>
<path d="M529.5,450.2 527.9,454.8 531.2,455.2 535.4,452.7 543.7,446 547.1,442.6 546.3,439.3 542.1,435.9 537.1,434.8 532,435.1 528.7,436.7 527.4,438.2 530.9,441.2 531.6,445.9Z"/>
<path d="M595.6,425.9 593.9,434.3 594.8,438.5 599.8,446.8 602.3,445.1 609,450.2 612.3,449.3 614.8,446 617,441.8 612.6,425 611,425 609.8,423.4 601.4,420.4 598.1,421.7Z"/>
<path class="n" d="M656.6,420.8 656.6,420.8 656.5,420.8 656.5,420.9 656.5,420.9 656.5,420.9 656.5,420.9 656.5,421 656.5,421 656.5,421.1 656.5,421.1 656.5,421.1 656.5,421.1 656.5,421.2 656.5,421.3 656.5,421.4 656.5,421.5 656.5,421.6 656.5,421.7 656.4,421.8 656.4,421.8 656.4,421.9 656.3,421.9 656.3,422 656.3,422 656.3,422 656.3,422.1 656.3,422.1 656.3,422.1 656.3,422.2 656.3,422.2 656.3,422.2 656.3,422.3 656.3,422.3 656.4,422.3 656.4,422.4 656.4,422.4 656.4,422.4 656.5,422.4 656.5,422.4 656.5,422.5 656.6,422.5 656.6,422.5 656.6,422.5 656.7,422.5 656.7,422.5 656.7,422.5 656.8,422.5 656.8,422.4 657.7,422 657.7,422 657.7,422 657.7,422 657.8,421.9 657.8,421.9 657.8,421.9 657.8,421.8 657.8,421.8 657.8,421.8 657.8,421.7 657.8,421.7 657.8,421.7 657.8,421.6 657.8,421.6 663.9,420.2 663.9,420.2 663.9,420.2 663.9,420.3 664,420.3 664,420.3 664,420.3 664.1,420.3 664.1,420.3 664.1,420.3 664.2,420.4 664.2,420.4 664.2,420.4 664.3,420.4 664.3,420.3 665.1,420.1 665.1,420.1 665.2,420.1 665.2,420.1 665.2,420.1 665.2,420.1 665.3,420 665.3,420 665.3,420 665.3,419.9 665.3,419.9 665.3,419.9 665.4,419.9 665.4,419.8 665.4,419.8 665.4,419.8 665.3,419.7 665.3,419.7 665.3,419.7 665.3,419.6 665.3,419.6 665.3,419.6 665.2,419.5 665.2,419.5 665.2,419.5 665.2,419.5 665.1,419.5 665.1,419.5 665,419.4 664.9,419.4 664.9,419.4 664.8,419.3 664.7,419.3 664.7,419.2 664.6,419.1 664.5,419.1 664.5,419 664.5,419 664.5,418.9 664.4,418.9 664.4,418.9 664.4,418.9 664.4,418.9 664.3,418.9 664.3,418.8 664.3,418.8 664.2,418.8 664.2,418.8 664.2,410.9 657.5,410.4 653.3,412.5 654.1,418.4Z"/>
<path d="M613,451.4 611.2,452.9 612.1,453.7 613.8,453.9 615.7,458.5 618.2,461.9 631.6,464.4 632.4,460.2 635.7,456.8 639.1,454.3 641.4,451.3 641.9,451.2 642.7,449 640.9,448.3 640.7,447.6 637.4,444.3 633.2,445.5 624,444.3 619.8,444.8 617,441.8 614.8,446 612.3,449.3Z"/>
<path class="n" d="M527.9,489.5 525.3,492 522,492.8 522,500.2 553.8,500.2 552.1,496.2 547.1,492.8 542.1,489.5 537.1,486.1 532.9,483.6 530.4,485.3Z"/>
<path d="M521.8,503.9 530.2,514.8 539.4,534 541.9,538.2 544.4,536.6 547.7,535.7 548.6,532.4 546.9,524 549.4,520.7 558.7,510.9 560,510 558.5,509.3 557.8,507.3 553.6,501.2 553.9,500 552.9,499.9 549.4,495.6 545.2,492.2 535.2,485.5 530.2,483 527.9,489.5 525.3,492 513.5,495.6Z"/>
<polygon points="486.6,136.5 490.2,135.3 493.1,137.1 493.8,141.2 494.3,143.6 490.8,145.3 487.2,146.5 485.4,149.5 483.7,152.4 481.9,155.4 480.1,158.3 478.4,161.2 476,163 473.7,161.2 472.5,158.9 474.8,157.1 476.6,155.4 479,153.6 480.7,150.6 482.5,147.7 484.3,144.2 486,140"/>
<polygon points="571.3,373 574.2,371.8 577.8,374.2 580.7,376.5 583.1,379.5 581.9,381.8 579.5,383 576,380.7 572.5,378.3 570.1,375.9"/>
<path d="M428.5,215 427.2,215.9 427.2,216.3 429.1,217 432,219.5 432.2,217.9 433.6,216.8 434.6,214.2 436.1,212.2 434.4,211.5 434.2,210.3 432.4,208.6 430,209.7 428.3,212.7Z"/>
<polygon points="464.8,221.5 466.6,222.7 468.9,221.5 470.1,225.7 471.9,228.6 470.1,231 467.2,232.7 464.8,233.7 463,230.4 465.4,228.6 466,225.1"/>
<polygon points="471.9,228.6 474.8,228 478.4,226.8 481.3,225.9 481.9,229.2 480.7,232.7 479.6,235.7 476.6,236.9 473.1,236.3 470.1,235.7 467.8,234.5 467.2,232.7 470.1,231"/>
<path class="n" d="M420,243.3 420,251.6 421.2,253.4 424.1,254 427.1,252.2 428.8,249.2 428.6,246.7 426.1,243.4 422,241.7Z"/>
</g>
<g fill="#b73557">
<path d="M352.6,206 361.6,216.6 363.6,221.4 365.5,220.5 369.3,222.8 372.7,223.6 373.5,219.4 376,213.6 372.7,214.4 359.3,204.9 353.5,203.5Z"/>
<path d="M276.3,236.3 279.5,235 291.3,225.8 294.9,224.6 297,226.1 298.7,225.4 304.2,230.7 310.8,229.4 314.6,229.4 317.2,230.6 317.4,224.2 318,221.3 322.6,217.4 321.3,214.1 318.6,210.9 305.6,209.5 299.1,208.2 295.2,206.3 291.3,207.6 284.8,210.9 279.5,216.7 273,220 271.9,221.4 269.9,221.1 272.4,229.1Z"/>
<polygon points="318,221.3 320.6,219.3 322.6,217.4 326.5,216.7 330.4,217.4 334.3,218 338.2,218.9 342.1,219.3 346,220.6 349.9,221.9 353.8,223.2 357.1,221.9 359.7,226.5 361,230.4 360.4,233.7 357.7,235.6 353.8,233.7 349.9,232.4 346,231.7 342.1,231.4 338.2,231.1 336.2,229.1 333,227.8 329.1,227.1 325.2,225.8 321.3,224.5 317.3,224.5"/>
<path d="M303.5,267.9 299.5,276.8 302,281 305.3,284.4 308.7,286 310.4,282.7 317,276 323.7,271 326.2,266.8 322.1,265.1 317.9,265.1 313.7,266 310.4,264.8 306.5,265.1 302.7,264 302.5,264.4Z"/>
<path d="M343.8,295.2 345.4,300.8 344.1,301.7 345.5,302.6 345.5,305.3 346.5,305.9 346.7,306.6 345.8,308.1 348.9,308.9 352.5,303.6 353.4,298.6 356.7,295.2 361.4,293.7 361.8,293.9 367.8,289.7 371.4,283.6 370.3,281.9 370.9,281 363.4,275.2 361.7,270.2 357.6,272.7 349.2,276 345.5,276 343.8,281.9 343,288.6Z"/>
<path d="M388.8,275.2 390.2,280.2 395.2,290.2 397.6,294.4 398.5,294.8 398.8,296 399.3,296.1 403.9,291.1 403.5,290.8 401,281.9 398.5,276.8 393.5,270.5 389.3,269.8Z"/>
<polygon points="415.3,227.5 419.5,225.3 422,227 423.6,231.7 423.7,236.2 420.3,240.1 417.8,236.7 416.1,232.5"/>
<path d="M438.7,261 436.2,275.2 439.5,277.7 443.7,276 447,273.5 447.9,272.2 449.5,272.3 451.2,275.2 457.1,271 464.8,268.5 464.6,266.8 462.9,262.6 458.7,261 453.7,261 443.7,262.6Z"/>
<path d="M504.4,358.5 503.6,362.7 505.3,367.7 508.6,370.2 512.8,371 513.9,369.4 515.8,369.5 515.6,366.9 516.1,361.8 508.6,359.8 506.6,356Z"/>
<path class="n" d="M515.1,406.7 518,410 521.7,412.2 522,413.4 523.7,414.2 528.7,413.4 533.7,410.9 537.9,408.3 538.7,404.8 536.5,404.8 535.9,404 537,401.2 536.9,400.4 536.9,400.4 536.9,400.4 536.9,400.4 537,400.4 537,400.3 537,400.3 537.1,400.3 537.1,400.3 537.1,400.3 537.1,400.2 537.1,400.2 537.2,400.1 537.2,400 537.2,399.9 537.3,399.9 537.4,399.8 537.4,399.8 537.5,399.7 537.6,399.7 537.7,399.6 537.7,399.6 537.8,399.6 537.9,399.6 538,399.6 538.1,399.6 538.2,399.6 538.2,399.6 538.2,399.6 538.3,399.6 538.3,399.6 538.3,399.6 538.4,399.6 538.4,399.5 538.4,399.5 538.5,399.5 538.5,399.5 538.5,399.5 538.5,399.4 538.5,399.4 538.6,399.4 538.6,399.3 538.6,399.3 538.6,399.3 538.6,399.2 538.6,399.2 538.6,399.2 538.6,399.1 538.6,399.1 538.5,399.1 538.5,399 538.5,399 538.5,399 538.5,399 537.4,398.1 536.6,396.9 536.6,396.9 536.5,396.9 536.5,396.9 536.5,396.8 536.5,396.8 536.4,396.8 536.4,396.8 536.4,396.8 538.7,392.8 539,391.4 539,391.4 539,391.4 539.1,391.4 539.1,391.4 539.1,391.4 539.2,391.4 539.2,391.4 539.2,391.4 539.3,391.4 539.3,391.4 542,389.2 542,389.2 542.1,389.1 542.1,389.1 542.1,389.1 542.1,389 542.1,389 542.1,389 542.1,388.9 542.1,388.9 542.1,388.9 542.1,388.8 542.1,388.8 542.1,388.8 542.1,388.7 542.1,388.7 542.1,388.7 539.1,385.2 539,385.1 539,385.1 539,385.1 539,385.1 538.9,385.1 538.9,385.1 538.9,385.1 538.3,385 538.3,385 538.3,385 538.2,385 538.2,385 538.2,385 538.1,385 537.9,384.4 533.7,383.6 530.4,388.6 526.9,392 522.8,393.3 518.6,392 514.6,402.5 514.5,405.2 514.9,405.6Z"/>
<polygon points="608.8,372.7 611.3,369.4 614.6,368.5 616.3,366 619.7,368.5 623.8,367.7 627.5,369.4 626.4,373.6 623,376.1 620.5,378.6 616.3,380.2 612.1,379.4 609.1,376.9"/>
<path d="M719.5,389.3 717,392.7 715.4,397.7 716.2,401.9 718.7,405.2 727.1,401.5 731.3,400.2 734.6,397.7 736.8,393.5 735,385.5 735.7,384.6 736.9,384.7 737.1,384.3 733.5,380.6 731.3,377.6 728.3,378.4 724,378.9 723,378.6 722.8,380.3Z"/>
<path d="M700.8,410 703.3,415 704.1,420.1 709.5,422 716.2,418.9 718.4,415 719.2,410.9 716.2,407.8 716.5,406.5 716.2,406.1 715.1,406.9 710.3,406.6 705.8,407.5 701.6,406.3Z"/>
<path d="M665.5,430.8 665.8,432.9 668.7,432.5 668.3,431.2 668.7,430.2 672.4,427.6 670.7,422.6 667.3,419.2 662.7,420.4 662.8,431.1 663.2,431.4 664.3,430.5Z"/>
<path d="M563.8,409.2 563.8,420.9 568.8,420.4 573.8,419.2 578,416.7 579.7,413.4 576.4,410 572.2,407 570.9,407.2 569.8,405.3 567.7,407.6Z"/>
<path d="M578,441.8 580.5,445.1 581.2,445 582.2,446.3 588.4,445.2 595.4,448.7 595.8,450.2 599.8,446.8 594.8,438.5 593.9,434.3 588.9,433.8 583.9,434.3 581.4,435.9 578,430.9 575.5,432.6 575.9,437.6Z"/>
<path d="M466.2,150.7 465.3,152.7 472.3,155.1 474.6,157.4 475.1,157.3 473.3,152.7 475.4,150.6 474.2,145.1 471.3,144.4 463.7,144.5 464.6,148.9Z"/>
<path d="M551.8,353.5 547.4,364.2 549.2,368.5 553.6,368.3 557.7,368.9 562.4,362.4 565.4,361.2 567.7,359.4 570.7,355.9 569.5,354.1 565.4,352.4 560.7,351.4Z"/>
<path d="M584.2,385.4 587.8,387.1 591.3,389.5 594.3,392.5 596,390.7 597,387.7 595.4,384.8 592.5,382.4 590.4,381.4 590.6,379.2 587.3,379.1 584.4,378 582.5,375.7 580.6,376.9 582.9,379.8 582.1,381.5 579.2,383.1 581.2,385.1Z"/>
<path class="n" d="M420,228.6 420,239.2 420.3,240.1 423.5,237.5 424.7,233.9 424.5,229.8 422,227Z"/>
</g>
<g fill="#db503b">
<path d="M271.2,112.5 274,108.3 275.5,108.2 274.1,106.7 273.8,101.8 272,101.6 271.2,101.1 270.7,99.5 267.2,101.2 261,100.5 264.7,116.4 269.3,121.5 273.9,125.3 274.1,124.9 273.4,124.1 270,116.2Z"/>
<path d="M363.2,169.3 364.3,173.4 363.8,175.9 368.5,176.8 371.8,178.5 374.4,181 376.9,190.2 379.4,192.7 383.6,191.8 390.2,188.5 392.8,186.8 394.4,184.3 394.9,181 391.9,182.6 387.7,181.8 385.2,178.5 384.4,175.1 386.1,171.8 384.4,170.1 383.2,165.9 385.2,163.4 384.4,160.9 380.2,160.1 373.5,162.6 370.2,165.9 366.8,165.1 363.5,161.4 360.8,162.6 360.2,163.7 358.8,163.9 361.2,165.4Z"/>
<path d="M405.1,220.1 405.1,220.6 407.7,222.2 410.1,221.7 410.3,221.2 409.4,220.4 409.6,219.3 410.4,218.7 411.4,218.8 413.1,216.7 416.2,215.2 418.7,211.9 420,207.7 417,204.4 414.8,203.1 414.9,201.1 413,201.5 412.4,201 411.8,202.2 410.3,202.7 402.2,212.4 401.7,212.5 400,215 402.5,218 403,218Z"/>
<path d="M435.3,192.6 435.9,194.3 437.3,194 439.1,195.2 440.4,190.2 440.4,187.1 440.7,186.8 440.4,185 436.2,185.6 431.3,183.6 431.6,185 430.9,186.1Z"/>
<path class="n" d="M415.2,235 415.2,235 415.1,235 415.1,235 415.1,235 415.1,235 415,235.1 415,235.1 415,235.1 415,235.2 415,235.2 415,235.2 415,235.3 415,235.3 415,235.3 415,235.4 415.8,240.1 415.8,240.1 415.8,240.2 415.9,240.2 415.9,240.2 415.9,240.3 415.9,240.3 415.9,240.3 416,240.3 416,240.4 416,240.4 416.1,240.4 416.1,240.4 416.1,240.4 416.2,240.4 416.2,240.4 416.2,240.4 416.3,240.4 416.3,240.4 416.3,240.4 416.4,240.4 416.5,240.3 416.6,240.3 416.6,240.3 416.7,240.3 416.8,240.3 416.8,240.4 416.9,240.4 416.9,240.4 416.9,240.4 417,240.4 417,240.4 417,240.4 417.1,240.3 417.1,240.3 417.1,240.3 417.2,240.3 417.2,240.3 417.2,240.2 417.2,240.2 417.2,240.2 418.9,240.2 418.9,240.2 418.9,240.3 418.9,240.3 418.9,240.3 418.9,240.4 418.9,240.4 418.9,240.4 419,240.4 419,240.5 419,240.5 419,240.5 419.1,240.6 419.2,240.6 419.3,240.7 419.3,240.7 419.4,240.8 419.4,240.9 419.4,241 419.5,241 419.5,241.1 419.5,241.2 419.5,241.3 419.5,241.4 419.5,241.5 419.5,241.6 419.5,241.6 419.4,241.7 419.4,241.8 419.3,241.9 419.3,241.9 419.2,242 419.2,242 419.1,242 419.1,242.1 419.1,242.1 419.1,242.1 419.1,242.2 419.1,242.2 419.1,242.2 419.1,242.3 419.1,242.3 419.1,242.3 419.1,242.4 419.1,242.4 419.1,242.4 419.1,242.5 419.2,242.5 419.2,242.5 419.2,242.5 419.2,242.5 419.3,242.6 419.3,242.6 419.3,242.6 419.4,242.6 419.4,242.6 419.4,242.6 419.5,242.6 419.5,242.6 422,242.1 422.1,242 422.1,242 422.1,242 422.1,242 422.2,242 422.2,242 422.2,241.9 422.2,241.9 422.3,241.9 422.3,241.8 422.3,241.8 422.3,241.8 422.3,241.7 422.3,241.7 422.3,241.7 422.3,241.6 422.3,241.6 422.3,241.6 422.2,241.5 422.2,241.5 422.2,241.5 422.2,241.4 422.1,241.4 422.1,241.3 422,241.2 422,241.1 422,241.1 422,241 422,240.9 422,240.8 422,240.7 422,240.6 422,240.6 422.1,240.5 422.1,240.4 422.1,240.4 422.1,240.4 422.1,240.3 422.2,240.3 422.2,240.3 422.2,240.2 422.2,240.2 422.2,240.2 422.2,240.1 422.2,240.1 422.1,240.1 422.1,240 422.1,240 422.1,240 423.7,236.2 425,232 424.5,228.1 422,227 419.5,225.3 417.2,222.2 417.3,222.1 417.3,222.1 417.3,222 417.3,222 417.3,222 417.3,222 417.3,221.9 417.3,221.9 417.3,221.8 417.3,221.8 417.3,221.8 417.3,221.8 417.3,221.7 417.3,221.7 417.3,221.7 417.2,221.6 417.2,221.6 417.2,221.6 417.2,221.6 416.5,221.3 416.5,221.3 416.4,221.2 416.4,221.2 416.4,221.2 416.3,221.2 416.3,221.2 416.3,221.2 416.2,221.2 416.2,221.3 416.2,221.3 416.1,221.3 416.1,221.3 416.1,221.3 416.1,221.4 416.1,221.4 416,221.4 416,221.5 416,221.5 416,221.5 416,221.5 416,221.6 416,221.6 416,221.7 416,221.7 416,221.7 416,221.7 416.1,221.8 416.1,221.9 416.1,221.9 416.2,222 416.2,222.1 416.2,222.2 416.2,222.3 416.2,222.4 416.2,222.5 416.2,222.5 416.2,222.5 416.2,222.6 416.2,222.6 416.2,222.6 416.3,222.6 416.3,222.7 416.3,222.7 416.3,222.7 416.3,222.8 416.4,222.8 415.5,224 415.4,224 415.4,224 415.4,224 415.3,224 415.3,223.9 415.3,223.9 415.2,223.9 415.2,223.9 415.2,223.9 415.1,224 415.1,224 415,224 414.9,224 414.8,224 414.8,224.1 414.7,224.1 414.6,224 414.5,224 414.4,224 414.3,224 414.2,223.9 414.2,223.9 414.1,223.9 414.1,223.8 414.1,223.8 414,223.8 414,223.8 414,223.8 413.9,223.8 413.9,223.8 413.9,223.8 413.8,223.8 413.8,223.9 413.8,223.9 413.7,223.9 413.7,223.9 413.7,224 413.7,224 413.7,224 413.6,224 413.6,224.1 413.6,224.1 413.6,224.1 413.6,224.2 413.6,224.2 413.6,224.2 413.6,224.3 413.6,224.3 414.2,225.4 414.2,225.5 414.2,225.5 414.2,225.5 414.3,225.6 414.3,225.6 414.3,225.6 414.4,225.6 414.4,225.6 414.4,225.6 414.4,225.6 414.5,225.6 414,230.3 415.2,235Z"/>
<path d="M320.1,209.8 318.4,211.2 321.4,214.4 322.6,217.4 326.5,216.7 342.1,219.3 353.8,223.2 357.1,221.9 356.8,219.4 350.4,212.5 347.8,209 346.7,209.8 345.7,209.8 342.9,207.5 343.5,205.4 341.8,205.2 340.2,204.1 336.9,203.2 335.2,201.5 334.5,202.9 333.6,203.3 331.7,202.4 323.9,203.7 320.6,206.3Z"/>
<path d="M335.7,241 335.4,242.7 337.2,242.3 339.5,244.1 340.8,252.3 339.3,256.1 342.6,256.8 344.2,258.8 346.9,258.6 349.9,259.1 353.8,257.8 355,256.2 357,256.5 356.8,254.6 359.3,251.3 357.1,249.7 358.4,239.5 357.7,235.6 349.9,232.4 338.2,231.1 336.2,236.3 334.3,239.5Z"/>
<path class="n" d="M276.3,236.3 275,238.2 273.7,241.5 275,244.7 278.2,247.3 282.2,250 286.1,253.9 290,259.1 292.6,264.2 300.4,264.2 301.7,259.7 303.7,256.5 304.3,252.6 302.4,249.3 299.1,246.7 297.8,244.1 298.4,240.2 300.4,237.6 303,235 303.7,232.4 300.4,231.7 297.8,229.1 297.1,225.8 295.2,224.5 291.3,225.8 287.4,229.1 283.5,231.7 279.5,235Z"/>
<path class="n" d="M318,255.2 315.4,257.8 313.4,261 312.8,264.2 329.7,264.2 330.4,261 328.4,257.8 324.5,255.2 321.3,252.6 320,252.6Z"/>
<path class="n" d="M330.4,261 329.7,264.2 343.4,264.2 344.7,259.1 342.8,256.5 339.5,255.8 336.2,257.8 332.3,258.8Z"/>
<polygon points="276.3,236.3 278.6,233.4 283.6,230 287.8,227.5 292.8,225.8 297.1,225.8 297.8,231.7 297,236.7 297.8,241.7 301.2,245.9 303.7,250.1 304.5,254.3 301.2,257.6 300.3,261 302.8,264.3 303.7,267.6 302.8,268.8 297.8,268.2 293.6,266 290.3,261.8 287.8,257.6 286.1,253.9 282.2,250 278.2,247.3 274.4,245.9 274.4,240.1"/>
<polygon points="317,258.5 319.6,254.3 323.7,257.6 327.9,259.3 330.4,261 328.7,264.3 326.2,266.8 322.1,265.1 317.9,265.1 313.7,266 310.4,264.8 313.4,261"/>
<polygon points="326.2,266.8 327.1,270.2 325.4,275.2 323.7,280.2 320.4,283.5 317,286 312.9,289.4 310.4,291.1 308.7,287.7 308.7,286 310.4,282.7 313.7,279.4 317,276 320.4,273.5 323.7,271"/>
<path d="M326.2,266.8 327.1,270.2 323.7,280.2 320.4,283.5 312.9,289.4 310.7,290.9 309.9,290.1 309.3,291.4 307,291.9 307.8,295.2 310.4,298.6 314.5,301.1 318.7,302.8 322.1,299.4 322.9,303.6 325.4,307 327.1,303.6 330.4,306.1 334.6,307 338.8,305.3 342.1,302.8 345.5,301.1 343.8,295.2 343,288.6 343.8,281.9 345.5,276 341.6,273.7 337.7,269.3 340.7,267.1 340.7,266.6 343.8,263.5 343,258.5 338.8,257.6 333.8,259.3 330.4,261 328.7,264.3Z"/>
<polygon points="451.2,275.2 453.7,273.5 457.1,271 462.1,269.3 464.6,268.5 467.9,271 471.3,274.3 473.8,277.7 474.6,281 472.1,280.2 468.8,276.8 465.4,275.2 461.3,276 457.1,277.2 453.7,278.2"/>
<path class="n" d="M591.6,317.8 591.6,320.2 597.1,320.2 597.4,319.5 594.1,316.7Z"/>
<path d="M508.6,359.8 512.5,360.6 516,362 516.2,358.2 517.2,354.6 518.2,353.2 516.5,353 515.3,351 511.1,349.8 507.8,351.8 506.6,356Z"/>
<path d="M522.8,332.1 526.2,330.1 527.3,327.8 528.8,327.4 527.6,326.4 524.9,321.9 524.1,323.3 521.2,324.2 517,326.7 518.6,330.9Z"/>
<path d="M587.9,332.6 588.7,337.6 591.2,341.8 594.6,344.3 597.1,348.5 599.6,350.1 608.8,351.8 608,341.8 611.3,330.9 607.1,325.9 602.1,325.9 597.7,321.5 597.5,319.7 596.4,319.9 594.1,316.7 590.9,319.7 589.7,319.9 588.6,319.4 589.4,321.2 587.3,324.8 583.4,328.3 583.6,328.7 586.3,328.7Z"/>
<path d="M663.2,446 665.7,446.8 668.2,443.5 670.7,438.5 672.4,432.6 667.3,432.1 662.9,433.6 661.9,445Z"/>
<path class="n" d="M650.2,474.9 650.2,476.3 654.1,476.6 657.7,478.9 659.3,476.9 664.2,476.1 664.3,471.7 667.3,468.6 669,463.5 667.3,460.2 664,461 663.7,461.5 663.3,461.8 657.5,461 657.5,461 657.5,461 657.5,461 657.4,460.9 657.4,460.9 657.4,460.9 657.4,460.9 657.4,460.8 657.3,460.8 656,460 656,460 656,460 655.9,460 655.9,460 655.9,460 655.8,460 655.8,460 655.8,460 655.7,460 655.7,460 655.7,460 655.6,460.1 655.6,460.1 655.6,460.1 655.6,460.1 655.5,460.2 655.5,460.2 655.5,460.2 655.5,460.3 655.5,460.3 655.5,460.3 655.5,460.4 655.5,460.4 655.5,460.4 655.5,460.5 655.5,460.5 655.6,460.6 655.6,460.7 655.6,460.8 655.6,460.9 655.6,461 655.5,461 655.5,461.1 655.5,461.2 655.4,461.3 655.4,461.4 655.3,461.4 655.3,461.4 655.3,461.5 655.3,461.5 655.3,461.5 655.3,461.6 655.2,461.6 655.2,461.6 655.2,461.7 655.2,461.7 655.3,461.7 655.3,461.8 652.5,462.7 650.1,469 650,469 650,469 650,469 649.9,469 649.9,469 649.9,469 649.8,469 649.8,469 649.8,469 649.7,469.1 649.7,469.1 649.7,469.1 649.7,469.1 649.6,469.1 649.6,469.2 649.6,469.2 648.2,470.6 648.2,470.6 648.2,470.7 648.1,470.7 648.1,470.7 648.1,470.8 648.1,470.8 648.1,470.8 648.1,470.9 648.1,470.9 648.1,470.9 648.1,471 648.1,471 648.1,471 648.2,471.1 648.2,471.1 648.2,471.1 648.2,471.1 648.3,471.2 648.3,471.2 648.3,471.2 648.4,471.2 648.4,471.2 648.4,471.2 648.5,471.2 648.5,471.2 648.5,471.2 648.6,471.2 648.7,471.2 648.8,471.2 648.9,471.2 649,471.2 649.1,471.2 649.1,471.2 649.2,471.3 649.3,471.3 649.4,471.4 649.4,471.4 649.5,471.5 649.5,471.6 649.6,471.6 649.6,471.7 649.6,471.7 649.7,471.7 649.7,471.7 649.7,471.8 649.8,471.8 649.8,471.8 649.8,471.8 649.9,471.8 649.9,471.8 649.9,471.8 649.9,474.4Z"/>
<path d="M618.2,438.5 617.2,439 616.2,438.6 615.9,439 616.7,442 617.2,442.1 619.8,444.8 624,444.3 633.2,445.5 637.4,444.3 634.1,435.1 630.7,432.6 621.5,427.6 620.7,431.8Z"/>
<path d="M637.3,444 637.1,444.5 640.6,447.9 642.2,446.7 647.4,447.6 651.6,446.8 652.9,443.6 654.2,442.9 653.3,442.3 652.8,437.6 650.8,433.4 646.6,430.9 641.6,430.1 637.4,431.8 634.1,435.1Z"/>
<path d="M582.2,451 592.2,469.4 595.6,467.7 598.6,465.2 597.1,461.2 597.7,460.1 595.5,456.5 594,452.1 595.1,450.8 593.4,450.4 593.1,449.4 594.6,447.8 592.3,446.5 591.9,446.7 588.1,445.1 585.6,445.1 582.2,446Z"/>
<path d="M593.9,451.8 595.6,456.8 597.3,460.2 600.6,459.4 609,456 612.3,453.5 610.2,451.4 610.5,449.6 608.7,450 602.3,445.1 596.4,449.3Z"/>
<path d="M575.5,468.6 577.2,473.6 579.7,476.1 582.5,473.3 584.5,473.1 589.7,474.4 592.2,469.4 586.9,459.3 585.8,460.5 585.1,460.6 583.9,459.4 579.7,460.2 576.4,462.7 575.2,465.2Z"/>
<polygon points="546.9,524 551.1,525.2 556.1,524.5 559.4,524.8 561.1,528.2 563.6,531.5 560.3,534.9 556.9,539.1 554.4,542.4 550.2,543.2 546.1,542.9 542.7,540.7 541.9,538.2 544.4,536.6 547.7,535.7 548.6,532.4 547.7,528.2"/>
<path class="n" d="M580.4,477.2 584.5,473.8 587.9,477.2 590.4,475.5 590,475.2 590,475.2 590.1,475.2 590.1,475.2 590.1,475.1 590.1,475.1 590.1,475.1 590.1,475 590.1,475 590.1,475 590.1,474.9 590.1,474.9 590.1,474.9 590,474.8 590,474.7 590,474.6 590,474.5 590,474.4 590,474.4 590,474.4 590,474.4 590,474.3 590,474.3 590,474.3 590,474.2 589.9,474.2 589.9,474.2 589.9,474.1 589.9,474.1 589.8,474.1 589.8,474.1 589.8,474.1 589.8,474.1 589.7,474 588.6,473.8 588.6,473.8 588.5,473.8 588.5,473.8 588.5,473.8 588.4,473.8 588.4,473.8 588.4,473.8 588.3,473.8 588.3,473.8 588.3,473.9 588.3,473.9 588.2,473.9 587,473 581.2,473 577.8,475.5Z"/>
<path d="M709.6,492.2 707,500.6 706.2,505.6 707.9,509 711.2,507.3 720.4,505.6 721.2,499.7 722.1,497.7 718.5,496.2 712.1,490.6Z"/>
<path d="M527,360.2 527.3,365.2 526.2,370.2 524.6,374.1 523,375 523,375.4 524.1,375.9 524.4,377.2 527.3,377.1 534.7,384.8 538.8,385.4 541.8,388.9 544.7,389.5 545.9,386.6 543.6,384.8 541.8,382.4 547.1,376.5 549.5,368.3 547.7,364.2 541.2,358.8 537.1,357.7Z"/>
<path d="M547.7,364.2 550,357.1 551.8,353.5 551.2,350.6 550.2,350.5 547.8,348.7 546.6,350.2 545.3,350.1 541,351.6 539.8,351.4 540,352.6 539.3,356.6 537.7,358 541.5,359Z"/>
<path d="M547.1,376.5 541.8,382.4 543.6,384.8 545.6,386.4 544.4,389.6 547.4,393.2 547.9,397.1 547.4,398.4 549.3,398.8 551.2,403.1 553,400.7 555.9,398.3 559.5,397.8 563,398.9 569.8,402.3 570.6,403.7 571.5,402.2 573,401.9 574.8,399.5 575.4,396.6 573.6,390.7 576,388.3 581.3,384.8 579.5,383 572.5,378.3 570.1,375.9 571.3,373 561.8,371.2 557.7,368.9 549.5,368.3Z"/>
<polygon points="580.7,366.5 583.1,363.6 586.6,362.4 590.1,363.6 591.9,367.1 592.3,370 589,371.2 585.4,371.8 582.5,373.6 580.7,371.8 580.1,369.5"/>
<path d="M423.5,220.6 422.8,222.3 422.9,224.5 424.7,224.5 426.5,226.2 428.8,225.7 430.6,228 433,229.2 435.3,227.4 437.1,224.5 436,221.8 436.2,221.4 434.6,218.6 432.6,219.7 426.5,215.6 424.1,216.8Z"/>
<polygon points="496.7,206.8 499,203.8 502.5,202.1 504.3,203.8 506.7,201.5 510.2,200.9 512,203.8 512.6,207.4 511.4,210.3 508.4,212.1 506.7,215 504.3,216.2 502,213.9 500.2,210.9 497.8,209.7"/>
<polygon points="504.9,221.5 507.9,219.8 512,219.2 515.5,220.4 516.7,223.9 514.9,226.8 512,228 508.4,228.4 505.5,227.4 504.3,224.5"/>
<path class="n" d="M505,225 505.5,227.4 508.4,228.4 513.3,228.3 514.9,226.8 514.5,225Z"/>
<path d="M518.8,240.6 516.5,242.8 519.8,244.2 523.5,239.6 524.7,239.8 525.3,240.4 525.7,244.5 526.7,245.2 526.9,246.7 527.5,246.4 529.5,246.8 529.6,244.6 531.6,243.9 532,243 534,242.8 533.4,240.9 534.1,235 532.4,234.3 532.2,233.3 533.9,230.3 532.8,227.4 530.4,224.1 526.3,221.7 523.3,221.5 524.5,224.4 523.9,231.5 522.7,235Z"/>
<polygon points="513.5,271 515.1,273.9 517.4,275.7 521,277.5 524.5,278.3 526,280.4 524.5,282.8 522.1,283.2 517.1,284.4 513.3,282.8 510.9,280.4 510,278.1 511.5,274.5"/>
</g>
<g fill="#f1731d">
<path d="M359.3,184.3 361,186.8 363.5,188.8 370.2,191.5 373.5,192.2 376.9,190.2 374.4,181 371.8,178.5 368.5,176.8 363.8,175.9 360.4,176.4 356.9,175.6 357.8,181.1 358.2,181.3Z"/>
<path d="M411.2,218.6 417,221.9 419.5,225.3 422,227 423.4,223.6 422.4,219.4 422.9,216.1 420.4,214.9 418.4,215 417.2,213.4 415.9,215.4 412.8,216.9Z"/>
<path class="n" d="M384.5,236.7 384.5,236.7 384.5,236.7 384.4,236.7 384.4,236.7 384.4,236.7 384.3,236.7 384.3,236.7 384.3,236.7 384.2,236.7 384.2,236.7 384.2,236.7 384.2,236.7 384.1,236.8 384.1,236.8 384.1,236.8 384.1,236.9 384.1,236.9 384.1,236.9 383.3,239.9 383.3,240 383.3,240 383.3,240 383.3,240.1 383.3,240.1 383.3,240.1 383.3,240.2 383.3,240.2 383.4,240.2 383.4,240.3 383.4,240.3 383.4,240.3 383.5,240.3 383.5,240.3 383.5,240.4 383.6,240.4 383.6,240.4 383.6,240.4 383.7,240.4 383.7,240.4 383.7,240.4 383.8,240.3 383.9,240.3 384,240.3 384,240.3 384.1,240.3 384.2,240.4 384.3,240.4 384.3,240.4 384.4,240.4 384.4,240.4 384.4,240.4 384.5,240.4 384.5,240.4 384.5,240.4 384.6,240.3 384.6,240.3 384.6,240.3 384.6,240.3 384.7,240.3 384.7,240.2 384.7,240.2 384.7,240.2 399.4,240.2 400.3,238.7 398.8,235.6 398.8,235.6 398.8,235.6 398.8,235.6 398.9,235.5 398.9,235.5 398.9,235.5 398.9,235.5 399.2,234.8 399.3,234.8 399.3,234.8 399.3,234.7 399.3,234.7 399.3,234.7 399.3,234.6 399.3,234.6 399.3,234.6 399.3,234.5 399.2,234.5 399.2,234.5 399.2,234.4 399.2,234.4 399.2,234.4 399.1,234.4 399.1,234.4 399.1,234.3 399,234.3 399,234.3 399,234.3 398.9,234.3 398.9,234.3 398.9,234.3 398.8,234.3 398.8,234.3 398.8,234.4 398.7,234.4 398.7,234.4 398.6,234.5 398.5,234.5 398.4,234.5 398.3,234.5 398.2,234.5 398.2,234.5 398.1,234.5 398,234.5 398,234.5 398,234.5 397.9,234.5 397.9,234.5 397.9,234.6 397.8,234.6 397.8,234.6 397.8,234.6 397.8,234.6 397.8,234.7 395.3,232.8 391.1,230.3 388.7,229.3 388.7,229.3 388.7,229.3 388.8,229.3 388.8,229.2 388.8,229.2 388.7,229.1 388.7,229.1 388.7,229.1 388.7,229.1 388.7,229 388.7,229 388.6,228.9 388.6,228.9 388.5,228.8 388.5,228.7 388.5,228.6 388.5,228.5 388.5,228.4 388.5,228.4 388.5,228.3 388.5,228.2 388.5,228.1 388.6,228 388.6,227.9 388.6,227.9 388.6,227.9 388.6,227.8 388.6,227.8 388.6,227.8 388.6,227.7 388.6,227.7 388.6,227.7 388.6,227.6 388.6,227.6 388.6,227.6 388.6,227.6 388.6,227.5 388.5,227.5 388.5,227.5 388.5,227.5 388.4,227.5 388.4,227.4 388.4,227.4 388.3,227.4 388.3,227.4 388.3,227.4 388.2,227.4 388.2,227.4 388.2,227.4 388.1,227.5 388.1,227.5 386.8,228.2 382.8,227.5 382.7,227.5 382.7,227.5 382.7,227.5 382.6,227.5 382.6,227.5 382.6,227.5 382.5,227.5 382.5,227.5 382.5,227.5 382.5,227.6 382.4,227.6 382.4,227.6 382.4,227.6 382.4,227.7 382.4,227.7 382.4,227.7 382.4,227.8 382.4,227.8 382.4,227.8 382.4,227.9 382.4,227.9 382.4,227.9 382.4,228 382.4,228 382.4,228 382.5,228 382.5,228.1 382.5,228.1 385,229.8 385,229.8 385.1,229.8 385.1,229.8 385.1,229.8 385.2,229.8 385.2,229.8 385.2,229.8 385.3,229.8 385.3,229.8 386.1,233.6 384.6,236.7Z"/>
<path d="M555.7,83.5 552.3,91.8 553.7,96 552.3,100.2 551.6,104.6 551.2,104.8 552.3,106.3 559,104.4 568.2,99.3 571.6,100.2 573.2,96 577.4,92.6 581.6,90.5 585.8,90.1 590.5,91.4 591.4,92.7 591.9,90.6 592.5,90.1 582.4,80.1 578.2,79.3 575.7,76.4 571.6,76.8 569,81.8 562.4,80.9 558.2,79.3 554.8,80.1Z"/>
<path d="M540.6,116.9 539.8,126.9 543.1,130.3 550,135.1 550.1,138.8 551.9,140.7 552.5,138.3 554.3,136.1 553.7,132.8 554,129.4 556.5,126.9 557.6,123.9 559.5,122.9 551.5,104.9 547.3,106 544.8,105.2 542.3,103.5 539.8,105.2 538.1,109.4Z"/>
<path class="n" d="M531.4,160.9 535.6,163.4 537.1,161.4 537.1,161.4 537.1,161.5 537.2,161.5 537.2,161.5 537.2,161.5 537.3,161.5 537.3,161.5 537.3,161.5 537.4,161.5 537.4,161.5 537.4,161.5 537.4,161.5 537.5,161.4 537.6,161.4 537.7,161.4 537.8,161.4 537.9,161.4 538,161.4 538.1,161.4 538.2,161.5 538.2,161.5 538.3,161.5 538.4,161.6 538.4,161.6 538.4,161.6 538.5,161.6 538.5,161.7 538.5,161.7 538.6,161.7 538.6,161.7 538.6,161.7 538.7,161.7 538.7,161.7 538.7,161.6 538.8,161.6 538.8,161.6 538.8,161.6 538.9,161.6 538.9,161.5 538.9,161.5 538.9,161.5 538.9,161.5 538.9,161.4 539,161.4 539,161.4 539,161.3 539,161.3 539,161.3 538.9,161.2 538.9,161.2 538.5,160.1 538.5,160 538.5,160 538.5,160 538.5,159.9 538.5,159.9 538.5,159.9 538.5,159.8 538.5,159.8 538.5,159.8 538.5,159.7 538.5,159.7 538.5,159.7 538.4,159.6 538.4,159.6 538.4,159.6 538.3,159.6 538.3,159.6 539.8,155.9 539.3,150.9 539.8,145.2 540.7,144.4 540.7,144.4 540.7,144.4 540.7,144.5 540.8,144.5 540.8,144.5 540.8,144.5 540.9,144.5 540.9,144.5 540.9,144.5 541,144.5 541,144.5 541,144.5 541.1,144.5 541.1,144.5 544.9,142.3 544.9,142.3 545,142.3 545,142.3 545,142.3 545,142.2 545,142.2 545.1,142.2 545.1,142.1 545.1,142.1 545.1,142.1 545.1,142 545.1,142 545.1,142 545.1,142 548.1,141.2 550.6,138.6 550.3,135.3 543.2,130.3 539.8,126.9 538.1,129.4 536.4,132.8 534.7,137.1 532.4,140.1 532.3,140.1 532.3,140 532.3,140 532.2,140 532.2,140 532.2,140 532.1,140 532.1,140 532.1,140 532,140 532,140 532,140 531.9,140.1 531.9,140.1 528.7,142.5 528.7,142.5 526.9,144.3 526.8,144.3 526.8,144.3 526.8,144.4 526.8,144.4 526.8,144.4 526.8,144.5 526.7,144.5 526.7,144.5 526.7,144.6 526.8,144.6 526.8,144.6 526.8,144.7 526.8,144.7 525.6,144.8 521.4,150.9 519.7,155 519.3,157.2 519.2,157.2 519.2,157.2 519.2,157.2 519.1,157.2 519.1,157.2 519.1,157.2 519,157.2 519,157.3 519,157.3 519,157.3 518.9,157.3 518.9,157.4 518.9,157.4 518.9,157.4 518.9,157.5 518.9,157.5 518.6,159 517.9,159.5 517.8,159.5 517.8,159.5 517.8,159.5 517.8,159.6 517.8,159.6 517.7,159.6 517.7,159.7 517.7,159.7 517.7,159.7 517.7,159.8 517.7,159.8 517.7,159.8 517.7,159.9 517.7,159.9 517.8,159.9 517.8,160 517.8,160 517.8,160 517.8,160 517.9,160.1 517.9,160.1 517.9,160.1 518,160.1 518,160.1 518,160.1 518.1,160.1 518.1,160.1 518.2,160.1 518.3,160.1 518.4,160.1 518.4,160.1 518.5,160.2 518.6,160.2 518.7,160.2 518.7,160.3 518.8,160.4 518.9,160.4 518.9,160.4 518.9,160.5 519,160.5 519,160.5 519,160.5 519.1,160.5 519.1,160.5 519.1,160.5 519.2,160.5 519.2,160.5 519.2,160.5 519.7,162.6 523,160.9 527.3,160.1Z"/>
<polygon points="518,173.4 521.4,172.6 524.7,175.1 526.4,179.3 528.1,183.5 530.6,187.6 528.9,190.2 524.7,191.8 520.5,193.5 517.2,194.3 514.7,190.2 513,186 513.8,181 515.5,176.8"/>
<polygon points="244.6,166.4 247.4,166.7 251.6,169.3 253.3,170.1 254.1,175.1 252.4,180.1 248.2,183.5 243.2,186 239,182.6 242.4,179.3 244.1,175.1 244.9,170.1"/>
<path d="M207.7,226.6 219.2,241.7 224.2,250.1 232.6,268.8 241.8,267.6 247.6,268.8 252.6,271 255.2,265.1 261.8,255.9 266.9,245.1 263.5,241.7 260.2,237.5 259.3,232.5 260.4,231.1 259.1,220.3 255.4,221.9 252.4,225.3 248.5,224.5 244.4,222.5 242.7,218.5 242,213.6 242.7,208.5 239,206 234.5,207.7 231.1,210.2 224.8,218.6 219.8,211.9 215.2,213.9 211.9,216Z"/>
<polygon points="253.5,297.8 257.7,295.2 261,291.9 263.5,288.6 266.9,291.1 271,292.7 274.4,291.9 274.9,296.9 274.9,302.3 272.7,304.4 267.7,305.3 262.7,306.1 257.7,307 255.2,303.6"/>
<path d="M287.8,313.6 290.3,316.2 293.6,317 297,316.2 295.3,312 289.7,309.6 288.6,308.6 288.2,309 288.9,310.8Z"/>
<polygon points="385.2,231.7 388.5,229.7 392.7,231.7 396.9,235 401,237.5 402.2,240.1 399.4,242.6 396.9,245.9 394.4,249.8 391,248.4 389.3,244.2 387.7,240.1 386,235.9"/>
<path d="M523,302.3 525.8,301.6 525.2,297.8 523.8,293.6 520,290.3 519.6,290.6 519.4,292.2 518.4,292.5 516.9,291.2 515.3,293.4 516.5,294.2 517.1,296.9 519.6,300.3Z"/>
<path d="M525.8,301.6 530.8,302.7 531.7,303.8 532,302.5 533.6,300.6 534.6,300.8 535,300.5 534,299.5 533.3,295.1 528.3,287.6 527.2,282 527.6,279.7 527.2,279.3 525.5,279.8 525.6,280.4 524.3,282.5 521.8,283.2 526.1,283.8 527.6,287.6 525.6,290.3 521,291.6 523.5,293.8 525.3,298.1Z"/>
<path d="M545.1,344.9 544.5,346.2 546.2,346.4 547.9,349.3 551.1,351.2 551.8,353.8 556,352.4 562,351.8 566.6,353.2 566.6,351.6 569.7,347.6 568.5,344.8 569.3,343.2 567.9,343.2 567.7,343.6 563.8,344.3 559.6,341.8 557.1,337.6 554.6,335.9 549.6,335.1 544.6,333.4 537,331.7 536.7,337.6 538.6,339.2 538.3,340.9 539.6,340.8 542.1,341.8Z"/>
<polygon points="580.4,330.1 583.7,328.4 586.2,328.4 587.9,332.6 588.7,337.6 591.2,341.8 594.6,344.3 597.1,348.5 599.6,350.1 593.7,352.6 588.7,353.2 582,353.5 577,353.8 572.2,353.5 571.7,346.8 572,340.1 576.2,337.6 578.7,334.3"/>
<path d="M686.6,421.7 701.6,424.7 703.3,424.4 704.5,425.8 706.1,424 704.8,423.1 704.5,422 705.8,420.6 704,419.8 703.3,415 700.8,410 697.5,412.5 692.4,414.2 687.4,413.4 685.7,418.4 683.2,421.7Z"/>
<path class="n" d="M515.5,431.8 519.7,435.1 524.5,436.8 527.4,435.6 527.4,435.6 527.4,435.7 527.5,435.7 527.5,435.7 527.5,435.7 527.5,435.8 527.6,435.8 527.6,435.8 527.6,435.8 527.7,435.8 527.7,435.8 527.8,435.8 527.9,435.9 527.9,435.9 528,435.9 528.1,436 528.2,436 528.2,436.1 528.3,436.1 528.3,436.2 528.4,436.3 528.4,436.4 528.5,436.4 528.5,436.5 528.5,436.6 528.5,436.7 528.5,436.7 528.5,436.8 528.5,436.8 528.5,436.8 528.5,436.9 528.5,436.9 528.6,436.9 528.6,436.9 528.6,437 528.6,437 528.7,437 528.7,437 528.7,437 528.7,437.1 528.8,437.1 528.8,437.1 528.8,437.1 528.9,437.1 528.9,437.1 528.9,437.1 529,437 529,437 531.1,436 531.1,435.9 531.1,435.9 531.2,435.9 531.2,435.9 531.2,435.9 531.2,435.8 531.2,435.8 531.3,435.8 531.3,435.7 531.3,435.7 531.3,435.7 531.3,435.6 531.3,435.6 531.3,435.6 531.3,435.5 531.2,435.5 531.2,435.5 531.2,435.4 531.2,435.4 531.2,435.4 531.1,435.4 531.1,435.4 531.1,435.3 531,435.3 531,435.3 531,435.3 531,435.3 530.9,435.3 530.8,435.3 530.7,435.3 530.6,435.2 530.5,435.2 530.4,435.1 530.4,435.1 530.3,435 530.3,435 530.2,434.9 530.2,434.8 530.1,434.7 530.1,434.7 530.1,434.6 530.1,434.5 530.1,434.4 530.1,434.3 530.1,434.2 530.1,434.1 530.1,434.1 530.1,434.1 530.1,434 530.1,434 530.1,434 530.1,433.9 530.1,433.9 530.1,433.9 530,433.8 530,433.8 530,433.8 532,431.8 534,427.6 531.2,424.2 524.5,418 522,420.1 521.8,423.4 516.3,425.1 513,428.4Z"/>
<path d="M650.8,433.4 652.8,437.6 653.3,442.6 659.1,446 662.2,445.1 663.2,434.1 664.5,433.4 663.2,432.5 662.7,420.4 657.5,421.7 648.3,426.7 646.6,430.9Z"/>
<path d="M647.7,490.6 646.5,494.7 648.5,498.1 651.8,497.3 656.6,494.9 661,494.2 661,492.2 664.4,489.7 657.7,478.9 654.1,476.3 650.4,476 649.7,477.7 648.5,478 646,480.5 646,485.5Z"/>
<path d="M650.5,499.4 647.7,505.6 645.2,509.8 641.8,514.8 637.6,519 641.8,524.8 642.6,529 644.3,533.2 658.5,528.2 662.7,525.7 667.7,519 666.9,514.8 667.7,510.6 671.1,503.1 668.6,498.9 665.2,495.6 661,493.9 656.9,494.7 652.1,497.1 649.6,497.5 649.5,497.9Z"/>
<path d="M627.6,521.5 636.8,529 641.8,532.4 644.3,533.2 642.6,529 641.8,524.8 637.6,519 633.5,520.2 628.4,519.5 625,518.1 624.6,519 626.1,519.5Z"/>
<path d="M647.1,535.8 656.9,539.1 661.9,541.6 666.9,541.9 667.7,539.1 666.1,535.7 666.1,533.2 667.7,530.7 662.7,525.7 658.5,528.2 644.7,533.1 641.5,532.2 641.6,532.7 646.6,536Z"/>
<path d="M553.8,403.4 553.1,405.1 554.6,405.1 557.7,406.6 563.6,410.7 568,407.5 571.3,404.2 570.1,402.5 563,398.9 559.5,397.8 555.9,398.3 553.3,400.5 552.8,400.4 551.6,402.2 553.5,402.7Z"/>
<path class="n" d="M420,215.6 420,225.7 422.4,225.1 423.5,220.9 424.1,216.8 421.8,215Z"/>
<path d="M455.1,220 453.4,221.1 455,223.4 453.7,229.1 455.6,229.3 457.1,232.5 463,230.4 465.4,228.6 466,225.1 464.8,221.5 460.7,215.6 457.7,216 456.5,216.7 455.2,216.4Z"/>
<path d="M502.7,239.7 502.1,248.6 504.2,254.1 506.4,253 506.5,252.5 508.6,250.9 506.8,248.6 509.2,242.7 508.6,239.7 505.6,238.9Z"/>
<polygon points="517.4,247.4 519.8,246.8 522.7,246 525.1,247.4 525.7,250.4 525.1,253.3 522.7,255.4 520.4,254.5 518.6,252.7 517.1,250.4"/>
</g>
<g fill="#f98c0a">
<path d="M270,116.2 273.8,125 276.2,132.5 280,134.5 288.8,135 290,131.4 291.7,130.9 290.6,129.7 292.4,124.1 296.1,118.4 294.5,118.7 294,117.5 290,113.8 282.5,109.5 274.2,108 271.2,112.5Z"/>
<path d="M238.8,122.5 238,127.5 240,133.8 252.5,135 251.2,127.5 249.2,121.2 246.5,120.1 246.1,118.4 245.6,118.4 245.4,119.4 244.5,120.1 240,120.5Z"/>
<path d="M217.5,167.5 218.8,169.5 225,169.5 232.5,168.8 236.6,166.7 237.8,167.9 241.2,167.8 241.5,167.4 246.2,166.2 247.5,160 246.2,151.2 241.2,150 240,155 235,158.8 220,163.8Z"/>
<path d="M333,171.8 330.9,182.3 332.5,183.3 331.7,188.5 332.5,193.5 336.7,192.2 341.7,191.8 346.8,192.7 351.8,191.8 357.4,185.4 359.6,184.4 358,180.7 357.1,175.9 355.5,172.6 356,168.4 354.3,164.7 350.1,165.1 346.8,167.6 345.1,170.1 340,163.8 337.6,165.1 332.5,166.7Z"/>
<polygon points="354.3,164.7 357.1,162.6 361,165.1 363.2,169.3 364.3,173.4 363.8,175.9 360.1,176.4 357.1,175.9 355.5,172.6 356,168.4"/>
<polygon points="357.6,185.1 359.3,184.3 361,186.8 361.8,191 363.2,195.2 364.3,199.4 365.2,202.7 361.8,203.5 357.6,201.9 354.3,199.4 352.1,196 351.8,191.8 354.3,189.3"/>
<path d="M361,186.8 365.2,202.7 367.7,201.9 370.2,200.2 372.6,194.6 373,194.4 373.7,192 369.9,191.4 366.8,190.2 363.5,188.8Z"/>
<path d="M374.4,202.7 378.5,203.5 382.4,202.8 385.3,204.7 388.7,203.1 390.9,203.3 390.6,202 391,201 392.4,199.7 393.9,200.2 394.3,199.8 392.8,195.2 390.5,192.9 390.5,190.9 388.6,191.5 388.1,191.1 388.1,189.4 383.6,191.8 379.4,192.7 376.9,190.2 373.5,192.2 370.2,200.2Z"/>
<path d="M346.8,192.7 343.4,201 340.1,204.4 341.7,205.5 346.8,206 350.6,205 352.8,206.3 353.8,203.6 353.6,203.2 354.3,199.4 352.1,196 351.8,191.8Z"/>
<polygon points="354.3,199.4 357.6,201.9 361.8,203.5 365.2,202.7 367.7,201.9 370.2,200.2 374.4,202.7 378.5,203.5 382.7,202.7 385.2,204.4 382.7,207.7 379.4,211.1 376,213.6 372.7,214.4 369.3,211.9 366,209.4 362.6,206.9 359.3,204.9 355.1,203.9 353.5,203.5"/>
<polygon points="396.1,188.8 398.3,187.6 401.1,189.3 398.6,191.8 396.9,191"/>
<path d="M440.3,186.5 440.3,190.5 443.2,189.2 446.3,188.8 453.8,191 455.5,186.8 453.8,176.8 454.3,174.3 456,173.5 454.5,172.3 453.8,167.6 450.5,168.4 447.1,171.8 441.3,176 439.1,175.8 440.1,177.1 439.6,181Z"/>
<polygon points="440.4,190.2 442.9,189.3 446.3,188.8 449.6,189.8 453.8,191 455.1,193.5 453,196 448.8,197.7 444.6,198.2 441.3,196.8 439.1,195.2"/>
<path class="n" d="M491.4,133.5 491.3,133.5 491.3,133.5 491.3,133.5 491.2,133.5 491.2,133.6 491.2,133.6 491.2,133.6 491.2,133.6 491.1,133.7 491.1,133.7 491.1,133.7 491.1,133.8 491.1,133.8 491.1,133.8 491.1,133.9 491.2,134 491.2,134 491.2,134.1 491.2,134.2 491.1,134.3 491.1,134.4 491.1,134.5 491.1,134.5 491,134.6 491,134.7 490.9,134.7 490.8,134.8 490.8,134.8 490.7,134.9 490.6,134.9 490.5,134.9 490.5,134.9 490.4,135 490.3,135 490.2,135 490.2,135 490.2,135 490.2,135 490.1,135 490.1,135 490.1,135 490,135 490,135 490,135 490,135 489.9,135.1 489.9,135.1 489.9,135.1 489.9,135.2 489.9,135.2 489.9,135.2 489.9,135.3 489.9,135.3 489.9,135.3 489.9,135.4 489.9,135.4 489.9,135.4 489.9,135.4 489.9,135.5 489.9,135.5 489.9,135.5 490,135.6 490,135.6 490,135.6 492.1,136.9 492.1,136.9 492.2,136.9 492.2,136.9 492.2,136.9 492.3,136.9 492.3,136.9 492.3,136.9 492.4,136.9 492.4,136.9 492.4,136.9 493.5,139.9 493.5,139.9 493.5,139.9 493.4,139.9 493.4,139.9 493.4,139.9 493.4,140 493.3,140 493.3,140 493.3,140 493.3,140.1 493.3,140.1 493.3,140.1 493.3,140.2 493.3,140.2 493.3,140.2 493.5,141.3 493.5,141.3 494,143.7 494,143.7 494,143.7 494,143.8 494,143.8 494,143.8 494.1,143.9 495,144.8 495,144.8 495.1,144.8 495.1,144.8 495.1,144.8 495.1,144.8 495.2,144.8 495.2,144.8 495.3,144.9 495.3,144.8 495.3,144.8 495.4,144.8 495.4,144.8 495.5,145.2 495.6,145.2 495.6,145.2 495.6,145.3 495.7,145.3 495.7,145.3 495.7,145.4 495.7,145.4 495.7,145.4 495.7,145.5 495.8,145.5 496.4,146.1 498.7,149.1 499,149.9 499,149.9 499.1,149.9 499.1,150 499.1,150 499.1,150 499.2,150 499.2,150.1 499.2,150.1 499.3,150.1 499.3,150.1 499.3,150.1 499.4,150.1 499.4,150.1 499.4,150.1 499.5,150.1 499.5,150.1 499.5,150.1 499.6,150 499.6,150 499.6,150 499.6,150 499.6,149.9 499.7,149.9 499.7,149.9 499.7,149.8 499.7,149.8 499.7,149.7 499.7,149.6 499.8,149.5 499.8,149.4 499.8,149.4 499.9,149.3 500,149.2 500,149.2 500.1,149.1 500.2,149.1 500.3,149 500.3,149 500.4,149 500.5,149 500.6,149 500.7,149 500.8,149 500.9,149 501,149.1 501,149.1 501,149.1 501.1,149.1 501.1,149.1 501.1,149.1 501.2,149.1 501.2,149.1 501.2,149 501.3,149 501.3,149 501.3,149 502.1,150 509.7,154.2 513,158.4 516.4,160.9 518.9,159.2 519.7,155 521.4,151 525.2,145.5 526.4,145.2 528.9,142.8 532.2,140.3 534.8,137 536.4,132.8 538.1,129.4 539,128.1 539,128.1 539.1,128.1 539.1,128.1 539.1,128.1 539.2,128.1 539.2,128.1 539.2,128.1 539.3,128.1 539.3,128.1 539.3,128.1 539.4,128.1 539.4,128.1 539.4,128.1 539.4,128 539.5,128 539.5,128 539.9,127.4 539.9,127.5 539.9,127.5 539.9,127.5 540,127.5 540,127.5 540,127.5 540.1,127.5 540.1,127.5 540.1,127.5 540.2,127.5 540.2,127.5 540.2,127.5 540.2,127.5 540.3,127.4 540.3,127.4 540.3,127.4 540.3,127.4 540.4,127.3 540.4,127.3 540.4,127.3 540.4,127.2 540.4,127.2 540.4,127.2 540.4,127.1 540.4,127.1 540.4,127.1 540.4,127 540.4,127 540.4,127 540.3,126.9 540.3,126.9 540.2,126.8 540.6,121.9 540.6,121.9 540.9,116.9 540.9,116.9 540.9,116.9 540.9,116.8 540.9,116.8 539.6,112.6 539.6,112.6 538.5,109.4 538.6,109.1 538.6,109.1 538.6,109 538.6,109 538.6,109 538.6,108.9 538.6,108.9 538.6,108.9 538.6,108.8 538.6,108.8 538.6,108.8 538.5,108.8 538.5,108.7 538.5,108.7 538.5,108.7 538.4,108.7 538.4,108.7 538.4,108.6 538.3,108.6 538.3,108.6 538.3,108.6 538.2,108.6 538.2,108.6 538.2,108.7 538.1,108.7 538.1,108.7 538.1,108.7 538,108.7 538,108.7 538,108.8 538,108.8 538,108.8 537.9,108.9 537.9,109 537.8,109.1 537.8,109.1 537.7,109.2 537.6,109.2 537.5,109.3 537.5,109.3 537.5,109.3 537.4,109.4 537.4,109.4 537.4,109.4 537.4,109.4 537.4,109.5 537.4,109.5 537.3,109.5 537.3,109.6 537.3,109.6 537.3,109.7 537.4,109.7 537.4,109.7 537.4,109.8 537.4,109.8 529.7,113.6 525.6,114.4 521.5,114.3 519.7,111.5 518,112.7 516.5,116.6 516,117 512.2,117.7 507.2,117.7 503,118.2 499.6,119.4 496.3,121.7 492.9,119.4 489.6,118.9 487.1,121.9 487.1,124.4 489.6,127 491.4,133.5Z"/>
<path d="M204.6,183.4 203.1,185.2 205,185.4 207.3,189.3 206.4,193.5 208.1,198.2 210.3,196.2 215.6,196.2 218.1,197.7 224,203.5 227.3,202.7 229.8,197.7 233.2,194.3 235.7,178.5 237.4,172.6 237.9,167.6 235.7,165.1 231.5,167.6 226.5,166.7 221.5,167.6 219.1,169.3 217.6,167.2 214.5,168.1 207.5,166.2 202.5,168.8Z"/>
<polygon points="297.1,225.8 299.1,224.9 301.7,225.8 304.3,228.4 304.3,230.4 303.7,232.4 300.4,231.7 297.8,229.1"/>
<polygon points="303.7,232.4 304.3,230.4 306.9,229.7 310.8,229.1 314.7,229.1 317.3,230.4 318,233.7 319.3,237.6 317.3,240.2 314.7,242.1 312.1,242.8 310.2,244.7 308.2,246 305.6,248 302.4,249.3 299.1,246.7 297.8,244.1 298.4,240.2 300.4,237.6 303,235"/>
<path d="M172.6,189.3 170.9,192.6 165.9,199.3 165.9,203.8 170.9,204.3 176.8,206 182.6,208.5 188.5,211.8 198.5,218.5 207.7,226.6 211.9,216 215.2,213.9 219.8,211.9 221.9,203.5 221.5,200.8 216.1,196 210.6,196 208.1,198.2 206.4,193.5 207.3,189.3 204.8,185.1 185.1,184.8 179.3,185.9 175.1,185.1 172.6,186.8Z"/>
<polygon points="293.6,264.3 296.1,259.3 297.8,263.5 299.5,266.8 295.3,267.1"/>
<path d="M300.3,261 302.8,264.3 306.2,265.1 310.4,264.8 313.4,261 317,258.5 319.6,254.3 319.7,253.2 321.6,252.8 320.6,249.3 321.6,246.9 324.2,244.7 321.6,241.3 319.5,237.3 319,237.4 317,240.4 315,241.9 311.9,242.5 305.4,247.7 302.8,248.8 303.8,250.4 304.5,254.3 301.2,257.6Z"/>
<path d="M341.3,273.5 345.5,276 349.2,276 357.6,272.7 361.7,270.2 362.6,266.9 363.3,266.1 364.6,265.9 364,264.1 363.5,263.9 362.7,264.9 361.6,264.7 360.9,263.4 362.1,261.6 359.9,260.7 357.2,258.1 355.7,259.2 354.5,258.8 354,257.3 352.6,258 351.7,257.6 347.5,258.5 343,258.5 343.8,263.5 340.5,266.8 337.2,269.3Z"/>
<polygon points="386.8,256.8 391,255.1 395.2,255.9 397.7,259.3 398.5,263.5 396.9,267.6 393.5,270.5 389.3,269.8 386.8,266 385.5,261"/>
<path class="n" d="M473.8,272.7 478,275.2 481.6,275.9 482,276.5 482,277.7 484.5,278.5 488.7,278.9 490.7,276 487.9,267.6 484.5,266.8 482,269.3 482,271.1 481.6,271.6 478,271.5Z"/>
<polygon points="490.5,290.5 496.2,289.2 500,291.2 498.8,294.5 492.5,294.5"/>
<polygon points="490.5,290.5 493.7,289.7 498.7,289.9 501.2,291.9 498.8,294.5 495,295.5 490.4,294.4"/>
<path d="M531.3,304.5 529.4,305 530.2,308.6 532,308.7 535.5,314.5 538.9,317.3 548.9,316.7 551.4,315.3 546.4,307 543,303.6 538.9,301.4 533.8,300.3 531.8,302.8Z"/>
<path d="M543.7,302.2 542.7,302.8 541.8,302.7 541.6,303.2 543.2,303.8 546.4,307 551.4,315.3 558.1,316.7 564,316.2 569,316.7 573.2,314.5 575.7,311.5 565.6,307.8 550.6,300.3 546.9,297.8 545.2,299.4Z"/>
<path class="n" d="M518.8,312.8 520.5,320.2 533.8,320.2 533,317.8 530.5,314.5 528,312 523.8,312.8 521.8,309.5Z"/>
<polygon points="518.8,312.8 522,311.7 526.2,312.5 530.4,315.9 533.7,320 535.7,324.2 535,328.4 531.2,329.7 527.8,326.7 525.3,323 522.8,319.2 520.3,316.7"/>
<path d="M559.6,341.8 563.8,344.3 568,343.5 570.9,343.5 571.6,344.4 572.1,344.2 572.3,340.1 571.7,338.7 571.5,326.7 569.8,326.1 569.6,324.6 568.1,325.5 563,324.2 559.6,326.7 557.3,331.4 556.8,331.5 554.3,335.7 554.4,336.2 557.3,337.9Z"/>
<polygon points="681.6,389.4 684.1,386.1 688.2,384.9 691.1,387.8 690.7,392 687.4,395 683.2,394.5 681,392"/>
<path class="n" d="M684.9,410 687.2,413.1 687.2,413.1 687.2,413.2 687.1,413.2 687.1,413.2 687.1,413.2 687.1,413.3 687.1,413.3 687.1,413.3 687.1,413.4 687.1,413.4 687.1,413.4 687.1,413.4 687.1,413.5 687.1,413.5 687.1,413.5 687.1,413.6 687.1,413.6 687.1,413.6 687.2,413.7 687.2,413.7 687.2,413.7 687.3,413.7 687.3,413.7 687.3,413.7 687.4,413.7 692.3,414.5 692.4,414.5 692.4,414.5 692.4,414.5 692.5,414.5 692.5,414.5 697.6,412.8 697.6,412.8 697.7,412.8 697.7,412.8 701,410.3 701,410.3 701.1,410.2 701.1,410.2 701.1,410.2 701.1,410.1 701.1,410.1 701.1,410.1 701.9,406.7 705.7,407.8 705.7,407.8 705.8,407.8 705.8,407.8 705.8,407.8 705.9,407.8 710.4,406.9 710.4,406.9 710.4,406.9 710.5,406.9 710.5,406.9 710.5,406.9 710.5,406.8 710.6,406.8 710.6,406.8 710.6,406.8 710.6,406.7 710.6,406.7 710.6,406.7 710.6,406.6 710.6,406.6 710.6,406.6 710.6,406.5 710.6,406.5 710.6,406.5 710.6,406.4 710.6,406.4 710.6,406.4 710.5,406.4 710.5,406.3 710.5,406.3 710.5,406.3 710.4,406.3 710.4,406.3 710.4,406.3 710.3,406.3 710.3,406.3 710.3,406.3 707,406.5 704,405.8 703.4,403.1 703.4,403.1 703.3,403.1 703.3,403 703.3,403 703.3,403 703.3,403 703.2,402.9 703.2,402.9 703.2,402.9 703.1,402.9 703.1,402.9 703.1,402.9 703,402.9 703,402.9 703,402.9 702.9,402.9 702.9,402.9 702.9,402.9 702.8,402.9 702.8,402.9 702.8,403 702.8,403 702.7,403 702.7,403.1 702.7,403.1 702.7,403.1 702.7,403.2 702.6,403.3 702.6,403.4 702.5,403.5 702.5,403.5 702.4,403.6 702.3,403.6 702.3,403.7 702.2,403.7 702.1,403.8 702,403.8 701.9,403.8 701.8,403.8 701.7,403.8 701.7,403.8 701.6,403.8 701.5,403.7 701.4,403.7 701.3,403.7 701.2,403.6 701.2,403.6 701.2,403.6 701.2,403.6 701.1,403.5 701.1,403.5 701.1,403.5 701,403.5 701,403.5 701,403.5 700.9,403.5 700.9,403.5 700.9,403.6 699.9,401.2 695.8,398.3 690.7,398.6 686.6,401.2 685.9,404.3 684.9,404.8Z"/>
<path d="M682.4,427.6 684.9,431.8 688.3,435.9 696.6,442.6 700,446 703.3,441.8 702.1,435.9 702.5,430.4 704,426.9 702.9,427.1 701.9,426.6 701.6,424.7 686.6,421.7 683.2,421.7Z"/>
<path d="M702.1,435.9 703.3,441.8 710.8,442.6 713.3,440.1 720,435.1 718.4,431.8 717,430.4 717.3,428.9 715.9,429.3 710.3,424.6 709.7,421.7 707.4,421 707,421.3 707.2,423.1 705,424.2 702.5,430.1Z"/>
<path d="M749.3,446.8 753.4,447.6 754.4,448.2 755.3,446.7 762.7,442.6 765.2,439.3 762.7,436.8 764.2,435.1 765,431.1 762.4,426.8 761.2,426.4 758.7,424.4 757.2,425.7 756,425.4 751,425.9 746.8,428.4 745.1,432.6 746,436.8 747.6,440.1 746.8,444.3Z"/>
<path class="n" d="M547.9,414.2 551.3,416.7 555.5,419.2 559.6,421.7 563.8,420.9 564.6,416.7 563.7,414.3 563.7,414.3 563.7,414.3 563.8,414.2 563.8,414.2 563.8,414.2 563.8,414.2 563.9,414.1 563.9,414.1 563.9,414.1 563.9,414 563.9,414 563.9,414 564.1,410.6 564.1,410.6 564.1,410.6 564.1,410.5 564.1,410.5 564,410.5 564,410.4 564,410.4 564,410.4 564,410.4 563.9,410.3 563.9,410.3 563.9,410.3 563.8,410.3 563.8,410.3 563.8,410.3 563.7,410.3 563.7,410.3 563.7,410.3 563.6,410.3 563.6,410.3 563.6,410.3 563.6,410.3 563.5,410.3 563.8,409.2 568,407.5 569.7,404.8 552.9,404.8 549.6,406.7 547.1,410Z"/>
<path d="M563.5,426.7 566.3,430.1 570.5,431.8 574.5,431.1 575.8,432.8 578.2,431.1 579.9,428.2 583,425.1 586.4,422.6 588.6,419.2 586.4,415 583,412.5 579.7,413.4 578,416.7 573.8,419.2 568.8,420.4 562.3,420.9 562.3,421.3 563.3,422.4 563,423.4Z"/>
<path d="M612.3,425.1 615.7,436.8 617.3,436.4 618.8,437.5 620.7,431.8 621.5,427.6 619,423.7 614.8,423.1Z"/>
<path d="M645.8,452.7 652.5,459.9 652.9,458.8 654.8,458.5 653.8,456.5 656.6,452.7 655.8,448.5 651.6,446.8 647.7,447.5 642.6,446.6 642.8,448 641.6,451Z"/>
<polygon points="560.1,365.3 562.4,362.4 565.4,361.2 567.7,364.2 570.7,367.7 574.2,371.8 571.3,373 566.6,372.4 561.8,371.2 557.7,368.9"/>
<path class="n" d="M440.6,195 444.6,198.2 448.8,197.7 451.8,197.1 453.6,195Z"/>
<path d="M441.4,214 440.4,214.4 439.5,214.1 439.3,214.5 440.2,216.8 439.7,219.2 441,219.2 441.8,219.8 443.6,217.4 446.5,215.6 449.5,215 454.8,216.2 457.7,208 456.6,205 454.2,202.7 451.8,203.8 447.1,209.2 443.6,209.7Z"/>
<polygon points="469.5,217.4 472.5,214.5 475.4,212.1 479,211.5 481.3,213.9 482.5,218 482.3,222.1 481.3,225.9 478.4,226.8 474.8,228 471.9,228.6 470.1,225.7 468.9,221.5"/>
<path d="M507.4,234.2 510.9,234.4 513.3,232.7 513.9,229.7 513.5,228 508.7,228.4 505.5,227.2 505,232.1Z"/>
<polygon points="508.6,239.7 510.4,236.8 513.3,235.6 516.8,236.2 520.4,238 518.6,240.9 516.8,242.7 515.1,245 514.5,248 513.9,250.9 511.5,251.9 508.6,250.9 506.8,248.6 508,245.6 509.2,242.7"/>
<path d="M515.1,245 513.9,250.9 516.8,251.9 518.6,249.8 519.7,247.1 521,246.7 519.8,245.6 519.8,243.9 516.8,242.7Z"/>
<path d="M525.2,253 523.4,254.5 525.1,255.5 525.1,256.2 527.5,257.4 529.5,255.9 531.9,255.1 531.9,258.1 532.5,258.2 533.6,253.2 532.2,249.6 531.7,249.5 530.4,246.8 527.5,246 525.1,247.4 525.7,250.4Z"/>
<path d="M533.3,261.6 535.4,262.8 536.8,265.4 539,262.9 539,262.2 540.8,260.2 540.6,258.7 541,255.7 539.2,253.3 536.3,254.2 533.3,253.3 532.2,258Z"/>
<path d="M503.7,256.6 502.3,257.3 502.2,257.8 503.9,258.8 505,261 507.4,263.3 510.4,263.9 513.6,263.9 515.4,265.4 517.1,262.6 522.7,261 523.9,258.6 522.7,255.4 520.4,254.5 518.8,252.9 517.6,250.7 516.5,251.8 513.9,250.9 511.5,251.9 508.6,250.9 503.9,253.9Z"/>
<polygon points="516.8,262.7 519.8,261.6 522.7,261 523.9,258.6 526.3,259.8 526,262.7 526.9,266.3 529.2,268.9 526.3,271.2 522.7,270.4 519.8,269.2 516.8,267.5 515.4,265.1"/>
<path d="M515.4,265.1 513.5,271 515.1,273.9 517.4,275.7 521,277.5 524.5,278.3 525.9,277.1 527.9,278 528.9,272 527.2,272.3 526.3,271.2 519.8,269.2 516.8,267.5Z"/>
<path d="M306.7,118.4 310.9,120.9 315.1,121.4 319.3,120.1 326.1,121.2 326.9,119.8 326.6,119.5 325.1,119.7 323.5,117.6 320.4,115.3 320.1,112.8 319.2,113.9 318,114 316.8,113.4 312.6,115.1 310.1,112.6 305.1,115.1 300,116.8 302.5,118.1Z"/>
<polygon points="320.1,110.9 324.3,107.1 328.5,109.2 332.6,111.7 336.8,115.1 338.5,118.4 335.2,120.1 331,119.3 327.6,117.6 326,115.9 323.5,117.6 320.1,115.1"/>
<path d="M322.6,129.3 324.9,131.6 325.7,134.6 327.4,133.5 328.5,134.3 331,132.6 340.2,134.3 343.5,131 341,127.6 341.8,123.5 338.8,119.4 338.5,118.1 334.9,120 331,119.3 327.6,117.6Z"/>
<path d="M330.1,136.8 337.7,146.9 339.2,150.9 344.8,150.1 349.6,151.1 349,149.7 350.2,148.5 351,144.4 343.5,138.5 341.1,135.4 341.2,133.3 339.9,134.2 330.9,132.3 328.9,133.9 330.5,135Z"/>
<path d="M248.9,70.7 251.6,78.1 250.5,85.5 247.9,87.6 244.7,88.7 245.2,90.8 243.2,95.4 242.3,95.9 242.2,96.4 244.2,97.7 246.8,100.4 248,100.7 248.7,101.5 255,101 255.3,101.3 261.2,101.1 261.5,100.8 267.5,101.2 270.7,99.8 272.2,96.6 280.2,87.1 281.3,83.9 279.7,81.3 276.5,79.2 272.8,78.6 270.1,76.5 265.9,69.6 263.2,62.2 260.6,60.6 255.3,60.1 250,60.4 246.3,62.2 244.2,64.8 244.2,68 246.8,68.6Z"/>
<path d="M229.8,77.6 232,78.6 234.6,81.3 236.2,83.9 242,86.6 244.7,88.7 247.9,87.6 250.5,85.5 251.6,78.1 248.9,70.7 246.8,68.6 244.2,68 242.7,70.2 241.4,70.9 240.4,70.7 237.8,68 235.1,66.4 233,67.5 228.8,76Z"/>
</g>
<path fill="none" d="M374.4,226.1 373.5,230.3 371.8,234.5 372.6,239.3M383.8,239.3 384.4,237 386.1,233.6 385.2,229.5 382.7,227.8 378.5,227 374.4,226.1M398.6,228.6 400.3,232 398.6,235.3 400.3,238.7 400.7,239.4M416,239.3 415.3,235.3 414,230.3 414.5,225.3 413.7,223.6 411.2,221.1 407.8,221.9 406.1,225.3 402.8,227.8 398.6,228.6M552.3,106 553.7,109.4 555.7,113.6 557.3,118.6 559,122.8 564,124.4 567.4,126.9 570.7,126.1 575.7,123.6 579.1,126.1 582.4,126.9 587.4,125.3 591.6,124.4 595.8,125.3 600,123.6 602.5,118.6 601.7,114.4 603.3,111 605.2,109.1M604.7,104.8 601.7,103.5 597.5,102.7 594.1,98.5 592.5,94.3 590.8,91.5 585.8,90.1 581.6,90.5 577.4,92.6 573.2,96 571.6,100.2 568.2,99.3 564,101.8 559,104.4 554.8,105.5 552.3,106M538.1,160.1 539.8,164.2 542.3,167.6 549,162.6 553.2,160.9 554.8,156.7 554,152.5 554.8,148.3 552.7,145.6M551.9,143.9 552.3,141.2 550.6,138.6 548.1,141.2 544.8,142 541.4,143.9M539.7,146.1 539.3,150.9 539.8,155.9 538.1,160.1M470.7,258.7 471.6,261.3M482.8,263.9 483.7,264.3 486.9,265.1 488.7,269.3 491.2,273.5 494.5,275.2 497.9,273.5 499.6,270.2 497.9,266 498.6,263M500.9,261.6 502.1,261 503.7,258.5 497.8,254 487.1,250.4 484.4,248.7 483.1,245.7 480.1,245.1 477.8,247.5 477.1,251 474.2,252.8 471.9,255.1 470.7,258.7M467,461.9 467.8,466.1 471.2,469.6 472,473.6 470.3,476.9 477,483.6 478.7,488.6 483.7,487 489.2,487.1 495.5,488.6 511.3,494.8M523.1,492.9 525.3,492 527.9,489.5 535,477.8 534.7,477.1 535.2,476.3 533.9,473.8M530.3,472.1 525.3,466.9 523.1,464M523.1,460.8 525.3,458.5 527.9,454.8 529.5,450.2 532,446 531.2,441 528.7,438.5 524.5,436.8 523.1,437.1M521.4,436.3 519.7,435.1 513.8,437.6 509.6,441 509,443 508.6,443.5 508.1,443.5 503.8,441.8 497.1,450.2 491.2,459.4 491.7,464.4 490.7,467.7 490.3,468.1 489.6,468.1 486.1,465.9 483.7,461.9 480.4,451.8 477,447.7 470.3,458.5 467,461.9M591.4,488.6 590.6,495.3 591.9,499.3M617.1,499.3 616.5,497 615.7,492.8 614,488.6 610.6,486.1 605.6,485.3 600.6,486.1 595.6,487 591.4,488.6M340.5,308.6 338.8,313.6 337.1,317 336.5,319.3M351.3,309.3 348.8,308.6 345.5,307.8 340.5,308.6M268.5,242.1 264.6,244.7 266.5,248.6 269.1,253.9 272.4,259.1 274,263.4M292.1,263.3 290,259.1 286.1,253.9 282.2,250 278.2,247.3 275,244.7 273.7,241.5 271.7,243.4 268.5,242.1M292.8,297.8 293.6,301.9 295.2,306.9 292.8,311.1 295.4,312.3 297,316.2 297.6,319.3M302,321.1 302.5,321.2 303.2,321.1M313.5,321.1 315.1,321.3 321.3,325.1 326.2,330 328.8,333.8 335,328.8 336.2,322.5 336.3,321.1M336.5,319.3 337.1,317.1 338.8,313.6 340.5,308.6 338.8,305.3 334.4,307 330.4,306.1 327.1,303.6 325.9,306 324.9,306.2 322.9,303.6 322.1,299.4 319,302.5 318.4,302.7 314.5,301.1 310.4,298.6 307.8,295.2 307,291.9 306.2,290.2 301.2,291.9 296.1,294.4 292.8,297.8M468.8,303.6 471.3,307 474.6,308.6 478.8,310.3 481.4,309M481.3,298.3 476.3,298.6 472.1,300.3 468.8,303.6M653.3,412.5 654.1,418.4 657.5,421.7 663.3,420.3M663.3,410.8 657.5,410.4 653.3,412.5M527.9,489.5 525.3,492 522.9,492.6M553.4,499.3 552.1,496.2 547.1,492.8 542.1,489.5 537.1,486.1 532.9,483.6 530.4,485.3 527.9,489.5M420.5,252.3 421.2,253.4 424.1,254 427.1,252.2 428.8,249.2 428.6,246.7 426.1,243.4 422,241.7 420.7,242.7M515,406.1 515.1,406.7 518,410 521.1,411.8M522.8,413.8 523.7,414.2 528.7,413.4 533.7,410.9 537.9,408.3 538.5,405.7M536,403.9 537,401.2 536.3,397 538.7,392.8 539.6,388.6 537.9,384.4 533.7,383.6 530.4,388.6 526.9,392 522.8,393.3 518.6,392 514.6,402.5 514.5,404.3M420.3,240.1 420.3,240.1 420.4,240M420.7,239.8 423.5,237.5 424.7,233.9 424.5,229.8 422,227 420.7,228M417,221.9 414.5,225.3 414,230.3 415.3,235.3 416.7,239.4M422.4,239.4 423.7,236.2 425,232 424.5,228.1 422,227 419.5,225.3 417,221.9M276.3,236.3 275,238.2 273.7,241.5 275,244.7 278.2,247.3 282.2,250 286.1,253.9 290,259.1 292.2,263.4M300.6,263.3 301.7,259.7 303.7,256.5 304.3,252.6 302.4,249.3 299.1,246.7 297.8,244.1 298.4,240.2 300.4,237.6 303,235 303.7,232.4 300.4,231.7 297.8,229.1 297.1,225.8 295.2,224.5 291.3,225.8 287.4,229.1 283.5,231.7 279.5,235 276.3,236.3M318,255.2 315.4,257.8 313.4,261 313,263.3M329.9,263.3 330.4,261 328.4,257.8 324.5,255.2 321.3,252.6 320,252.6 318,255.2M330.4,261 329.9,263.3M343.6,263.3 344.7,259.1 342.8,256.5 339.5,255.8 336.2,257.8 332.3,258.8 330.4,261M591.6,317.8 591.6,319.3M597.2,319.3 594.1,316.7 591.6,317.8M649.9,469.4 649.9,472.2M649.9,473.8 649.9,474.4 650.2,474.9 650.2,476.3 654.1,476.6 657.7,478.9 659.3,476.9 663.3,476.2M665.1,470.9 667.3,468.6 669,463.5 667.3,460.2 664.9,460.8M663.1,461.7 657.5,461 652.5,462.7 649.9,469.4M577.8,475.5 580.4,477.2 584.4,473.9M584.6,473.9 587.9,477.2 590.4,475.5 587.7,473.5M580.5,473.5 577.8,475.5M505.2,225.9 505.5,227.4 508.4,228.4 513.3,228.3 514.9,226.8 514.7,225.9M386.9,228.6 385.2,229.5 386.1,233.6 384.4,237 384.4,239.3M399.9,239.4 400.3,238.7 398.6,235.3 395.3,232.8 391.1,230.3 386.9,228.6M518.9,159.2 519.7,162.6 523,160.9 527.3,160.1 531.4,160.9 535.6,163.4 538.1,160.1 539.8,155.9 539.3,150.9 539.8,146.1M540.6,144.5 541.4,143.7 544.7,142 548.1,141.2 550.6,138.6 550.3,135.3 543.2,130.3 539.8,126.9 538.1,129.4 536.4,132.8 534.7,137.1 532.2,140.3 527.9,143.9M525.1,145.5 521.4,150.9 519.7,155 518.9,159.2M513,428.4 515.5,431.8 519.7,435.1 521.1,435.6M523.1,436.3 524.5,436.8 528.7,435.1 532,431.8 534,427.6 531.2,424.2 524.5,418 522.7,419.5M521.1,423.6 516.3,425.1 513,428.4M420.9,225.5 422.4,225.1 423.5,220.9 424.1,216.8 421.8,215 420.9,215.3M487.1,121.9 487.1,124.4 489.6,127 492.1,136.1 495.2,144.4M499,146.1 502.1,150 509.7,154.2 513,158.4 516.4,160.9 518.9,159.2 519.7,155 521.4,151 524.7,146.1M527,144.6 528.9,142.8 532.2,140.3 534.8,137 536.4,132.8 538.1,129.4 539.8,126.9 540.6,116.9 538.1,109.4 529.7,113.6 525.6,114.4 521.5,114.3 519.7,111.5 518,112.7 516.5,116.6 516,117 512.2,117.7 507.2,117.7 503,118.2 499.6,119.4 496.3,121.7 492.9,119.4 489.6,118.9 487.1,121.9M473.8,272.7 478,275.2 481.1,275.8M482.9,278 484.5,278.5 488.7,278.9 490.7,276 487.9,267.6 484.5,266.8 482.6,268.7M481.1,271.6 478,271.5 473.8,272.7M518.8,312.8 520.3,319.3M533.5,319.3 533,317.8 530.5,314.5 528,312 523.8,312.8 521.8,309.5 518.8,312.8M684.9,405.7 684.9,410 687.4,413.4 692.4,414.2 697.5,412.5 700.8,410 700.2,406.1M701.2,404.3 699.9,401.2 695.8,398.3 690.7,398.6 686.6,401.2 686,403.9M547.1,410 547.9,414.2 551.3,416.7 555.5,419.2 559.6,421.7 563.8,420.9 564.6,416.7 563,412.5 563.8,409.2 568,407.5 569.1,405.7M552.1,405.2 549.6,406.7 547.1,410M441.7,195.9 444.6,198.2 448.8,197.7 451.8,197.1 452.8,195.9"/>
<g fill="none">
<polyline points="486.3,161.7 487.1,168.4 492.9,170.1 496.3,166.7 498,162.6 502.1,160.9"/>
<polyline points="485.4,160.9 495.5,159.2 502.1,160.9 510.5,164.7 515.5,169.3"/>
<polyline points="513.8,162.6 516.4,161.2"/>
<polyline points="515.5,169.3 512.2,172.6 506.3,174.8 501.3,176.4 497.1,178.5 494.6,181.8 495.5,186.8 498,191 500.7,195"/>
<polyline points="515.5,169.3 522.2,170.1 528.1,172.6 531.4,175.1"/>
<polyline points="528.1,172.6 529.7,176.8 532.2,178.5"/>
<polyline points="528.9,190.2 533.1,192.7 535.6,191.8"/>
<polyline points="520,199.7 520.5,199.4 525.6,196 530.6,193.5 533.1,192.7"/>
<polyline points="468.7,161.7 467.4,166.7 470,171.8 469,178.5 471.7,184.3 468.7,188.8 465,193.5 462.4,195"/>
<polyline points="487.1,193.5 486.6,195"/>
<polyline points="487.1,193.5 489.1,195"/>
<polyline points="520,217.1 520.5,220.3"/>
<polyline points="520,222.6 523,221.1"/>
<polyline points="541.6,227.5 543.1,227.8"/>
<polyline points="370.9,225 373.5,228.3 376,232.5 379.3,230.9 383.5,229.2 385.2,231.7"/>
<polyline points="376,232.5 376.8,238.4 376,243.4"/>
<polyline points="381.8,240.1 384.3,245.1 386,250.1 386.8,256.8"/>
<polyline points="370.9,243.4 376,240.1 381,239.2 381.8,242.6 377.6,245.9 372.6,246.7 370.9,243.4"/>
<polyline points="376.8,258.5 381.8,265.1 386.8,266"/>
<polyline points="364.3,266 368.4,270.2 373.5,272.7 378.5,276.8 383.5,279.4 389.3,275.2"/>
<polyline points="378.5,286 381.8,281.9 385.2,279.4"/>
<polyline points="396.9,235 401,231.7 404.4,227.5 406.9,225"/>
<polyline points="402.2,240.1 406.1,245.1 410.2,250.1 413.6,255.9"/>
<polyline points="394.4,249.8 398.5,253.4 403.6,256.8 408.6,259.3 411.9,257.6 413.6,255.9"/>
<polyline points="397.7,259.3 402.7,262.6 408.6,261 411.9,257.6"/>
<polyline points="398.5,263.5 401.9,268.5 406.9,271 411.9,273.5 416.9,274.3"/>
<polyline points="411.9,257.6 414.4,262.6 416.1,268.5 416.9,274.3"/>
<polyline points="396,273.5 401,271.8 406.9,271"/>
<polyline points="401,281.9 406.1,279.4 411.9,278.5 417.8,277.7 423.6,276 427,278.5 427.8,283.5 427,288.6"/>
<polyline points="402.7,286.9 406.9,289.4"/>
<polyline points="417.8,277.7 416.9,274.3 422,273.5 427,272.7 431.2,275.2 436.2,275.2"/>
<polyline points="436.3,262 437,266.8 436.2,272.7 431.2,271 426.1,269.3 422,266.8 419.4,262.6 419.4,257.6"/>
<polyline points="462.9,262.6 464.8,262"/>
<polyline points="464.6,266.8 470.5,266 476.3,264.3 482,262.6"/>
<polyline points="439.5,277.7 442,281 447,283.5 453.7,282.7 460.4,281 467.1,280.2 474.6,281"/>
<polyline points="427,288.6 431.2,291.9 435.3,295.2 438.7,291.9 442,289.4 447,287.7 452.1,289.4 457.1,291.9 462.1,293.6 467.1,295.2 468.8,303.6"/>
<polyline points="431.2,296.9 435.3,295.2"/>
<polyline points="433.7,300.3 438.7,298.6 443.7,296.9 447.9,298.6 448.7,303.6 447,308.6 443.7,312 438.7,312.8 434.5,315.3"/>
<polyline points="447,287.7 447.9,293.6 447.9,298.6"/>
<polyline points="448.7,303.6 455.4,302.8 460.4,300.3 464.6,297.8 467.1,295.2"/>
<polyline points="431.2,310.3 436.2,307.8 438.7,312.8"/>
<polyline points="442,281 440.4,286 442,289.4"/>
<polyline points="467.1,295.2 467.9,301.9 468.8,308.6 469.6,315.3 470.5,320"/>
<polyline points="460.4,281 462.9,286.9 462.1,293.6"/>
<polyline points="491.2,273.5 492,276.8 495.4,279.4 496.8,279.8"/>
<polyline points="505,284 507.9,287.7"/>
<polyline points="482,280.2 485.3,279.4 488.7,278.9"/>
<polyline points="489.5,291.1 488.7,286.9 492,283.5 495.4,279.4"/>
<polyline points="504.4,284 502.9,287.7 501.7,291.1"/>
<polyline points="511.3,284 511.3,285.5"/>
<polyline points="508.8,299.9 511.3,303.6 513.8,307.8 517.1,310.3 522.1,310.6"/>
<polyline points="511.3,296.9 515.5,298.6 519.6,300.3"/>
<polyline points="506.3,307 508.8,312 511.3,316.2 512.9,320"/>
<polyline points="496.2,311.1 497.1,315.3 498.7,320"/>
<polyline points="484.5,297.8 482,298.6"/>
<polyline points="488.7,309.5 487,313.6 485.3,320"/>
<polyline points="529.7,304.9 530.8,306.6 533,310.3 535.5,314.5"/>
<polyline points="530.4,315.9 528.7,321.7 527.8,326.7"/>
<polyline points="469.3,310 470.1,315 467.6,320 462.6,322.5 458.4,321.7 455.1,325.1 453.4,330.1"/>
<polyline points="434.2,315 435.9,311.7 440,310"/>
<polyline points="485.2,310 487.7,314.2 485.2,318.4 483.5,321.7 486.9,323.4 492.7,322.5 498.6,320.9 502.8,318.4 503.6,314.2 501.9,310"/>
<polyline points="483.5,321.7 480.2,326.7 478.5,331.7 480.2,334.3"/>
<polyline points="480.2,334.3 485.2,335.1 490.2,332.6 495.2,330.9 500.2,329.2 504.4,330.1 508.6,329.2 512,331.7 515.3,335.1 515.3,340.1"/>
<polyline points="503.6,314.2 508.6,313.3 513.6,314.2 517,318.4 518.6,323.4 517,326.7"/>
<polyline points="504.4,330.1 503.6,325.1 502.8,318.4"/>
<polyline points="512,331.7 513.6,327.6 517,326.7"/>
<polyline points="490.2,337.6 495.2,335.9 500.2,336.8 505.3,339.3 508.6,341.8 506.9,345.1 501.9,346.8 496.9,346 491.9,343.5 489.4,340.1 490.2,337.6"/>
<polyline points="508.6,341.8 512,346 515.3,340.1"/>
<polyline points="455.9,344.3 460.1,342.6 466,340.9 471,343.5 475.2,346.8 480.2,349.3 485.2,351 487.7,353.5 490.2,358.5 488.5,361.8 485.2,360.2 480.2,358.5 476,355.2 471.8,353.5 467.6,351.8 464.3,350.1 460.9,353.5"/>
<polyline points="487.7,348.5 492.7,350.1 496.9,349.3"/>
<polyline points="490.2,358.5 495.2,360.2 500.2,361.8 503.6,362.7"/>
<polyline points="463.5,356 466.8,358.5 470.1,361.8 471.8,366 475.2,367.7 480.2,366.9 485.2,365.2 488.5,361.8"/>
<polyline points="462.6,361.8 466,363.5 467.6,367.7 466,371.9 463.5,375.2 459.3,376.1 455.1,375.2 451.7,372.7 448.4,371.9 444.2,372.2 440,371 435,368.5"/>
<polyline points="467.6,367.7 471.8,368.5 476.8,369.4 481.8,370.2 485.2,373.6 490.2,376.9 496.9,377.7 503.6,376.9 510.3,375.2 517,373.6"/>
<polyline points="481.8,370.2 486.9,367.7 492.7,366.9 498.6,368.5 501.9,371.9 505.3,367.7"/>
<polyline points="466,371.9 470.1,374.4 475.2,376.1 480.2,376.9 481.8,380.2 480.2,383.6 475.2,384.4 470.1,383.6 466,381.9 463.5,378.6 463.5,375.2"/>
<polyline points="480.2,383.6 485.2,384.4 490.2,383.6 494.4,385.3 498.6,384.4 503.6,383.6 508.6,382.8 513.6,383.6 517,383.6"/>
<polyline points="481.8,380.2 488.5,379.9 490.2,376.9"/>
<polyline points="455.1,375.2 454.3,380.2 454.8,386.1"/>
<polyline points="430,377.7 435,376.9 440,377.7 445.1,378.6 450.1,378.2 454.3,380.2"/>
<polyline points="430,386.1 433.3,385.3 437.5,386.9 441.7,386.1"/>
<polyline points="455.1,390.3 458.4,388.6 463.5,389.4 468.5,391.1 473.5,390.3 478.5,388.6 480.2,383.6"/>
<polyline points="452.6,389.4 455.1,390.3 456.8,395.3 455.9,400.3 453.4,405"/>
<polyline points="463.5,389.4 462.6,395.3 460.9,400.3 461.8,405"/>
<polyline points="478.5,388.6 480.2,393.6 483.5,398.6 487.7,401.2 490.2,405"/>
<polyline points="490.2,383.6 491.9,388.6 494.4,393.6 498.6,397 503.6,396.1 508.6,397.8 515.3,400.3"/>
<polyline points="498.6,397 499.4,401.2 497.7,405"/>
<polyline points="494.4,385.3 496.9,390.3 501.9,392 508.6,390.3 513.6,388.6 516.6,387.8"/>
<polyline points="440,397 443.4,393.6 448.4,391.1"/>
<polyline points="433.7,396.3 436.7,398.6 440,397 443.4,401.2 442.5,405"/>
<polyline points="584.5,353.8 583.7,358.5 583.7,363.2"/>
<polyline points="608.8,351.8 609.6,356 605.5,359.3 602.1,363.5 599.6,367.7 597.1,371.9 593.7,373.6 592.1,368.5"/>
<polyline points="612.1,356.8 609.6,356"/>
<polyline points="597.1,371.9 601.3,375.2 605.5,376.1 609.1,376.9"/>
<polyline points="614.6,368.5 613.8,364.4 616.3,360.2 620.5,359.3 626.4,355.2"/>
<polyline points="620.5,359.3 619.7,363.5 619.7,368.5"/>
<polyline points="627.5,369.4 631.4,366 634.7,362.7 637.2,361"/>
<polyline points="582,372.2 581.2,376.1 584.5,378.6 588.7,379.4 592.9,378.6 593.7,373.6"/>
<polyline points="572,372.7 575.3,373.6"/>
<polyline points="616.3,380.2 617.2,385.3 615.5,390.3 616.3,395.3 614.6,400.3 613,405"/>
<polyline points="645.6,369.4 643.1,372.7 639.7,376.1 638.9,380.2 640.6,385.3 642.2,390.3 641.4,395.3 640.6,400.3 638.9,405"/>
<polyline points="642.2,390.3 645.6,386.9 650.6,386.1 655.6,387.8 660.6,390.3 665.7,392.8 669,394.5 672.4,395.3"/>
<polyline points="642.2,390.3 644.8,395.3 647.3,399.5 650.6,402 655.6,402.8"/>
<polyline points="650.6,386.1 653.1,390.3 654.8,395.3 655.6,402.8 660.6,400.3 665.7,397.8 669,394.5"/>
<polyline points="676.5,381.1 673.2,385.3 670.7,389.4 669,394.5 672.4,398.6 675.7,402 679,405"/>
<polyline points="676.5,381.1 680.7,383.6 684.1,386.1"/>
<polyline points="672.4,395.3 676.5,392.8 681,392"/>
<polyline points="687.1,366.9 689.1,361.8"/>
<polyline points="685.7,371.9 689.9,375.2 692.4,380.2 691.6,384.4 691.1,387.8"/>
<polyline points="698.3,368.5 695.8,373.6 693.3,376.9 692.4,380.2"/>
<polyline points="692.4,380.2 696.6,383.6 700.8,386.1 704.1,388.6 705.8,393.6 704.1,400.3"/>
<polyline points="705.8,375.2 704.1,380.2 704.1,385.3 704.1,388.6"/>
<polyline points="690.7,392 694.1,395.3 695.8,398.3"/>
<polyline points="628.9,405 630.5,402 634.7,401.2 638.9,402.8"/>
<polyline points="707,390.2 710.3,391.8 713.7,393.5 717,392.7"/>
<polyline points="718.7,405.2 722.1,406.9 725.4,406.1 731.3,400.2"/>
<polyline points="751.3,398.5 748,402.7 744.6,406.9 741.3,411.1 737.9,415.3 733.8,417.8"/>
<polyline points="755.5,406.1 752.2,406.9 750.5,411.1 749.6,416.1 748,420.3 743.8,421.1 738.8,420.3 733.8,417.8"/>
<polyline points="737.1,420.3 735.4,424.5 732.1,428.6 732.1,435"/>
<polyline points="726.2,423.3 722.9,427 719.5,427.8"/>
<polyline points="747.6,440.1 752.6,437.6 756.8,434.3 761,435.1 762.7,436.8"/>
<polyline points="664,415 669,415.9 674,414.2 679.1,415 680.7,419.2 681.6,422.6"/>
<polyline points="674,414.2 672.4,410 674,405"/>
<polyline points="719.2,410.9 724.2,411.7 729.2,412.5 732.6,416.7"/>
<polyline points="732.6,416.7 737.6,413.4 741.8,409.2 746,405"/>
<polyline points="732.6,416.7 737.6,419.2 736.8,422.6 732.6,425.9 730.9,430.1 732.6,435.1 735.1,439.3 737.6,443.5"/>
<polyline points="720,435.1 722.5,438.5 726.7,441 730.9,442.6 737.6,443.5 742.6,443.8 746.8,444.3"/>
<polyline points="737.6,419.2 742.6,420.1 747.6,419.2 750.1,415 751,410 752.6,406.7"/>
<polyline points="737.6,443.5 734.2,447.6 730.1,451.8 726.7,456 725,459.4 728.4,463.5 732.6,467.7 735.9,470.2"/>
<polyline points="751,448.5 746.8,452.7 742.6,456.8 739.3,461.9 737.6,466 735.9,470.2"/>
<polyline points="710.8,442.6 712.5,448.5 713.3,453.5 711.7,458.5 710,462.7"/>
<polyline points="706.6,442.1 705.8,448.5 706.1,455.2 705,461.9 703.3,466"/>
<polyline points="700,446 700.8,451.8 700.8,455.2"/>
<polyline points="686.6,438.5 690.8,442.6 694.9,446 700,446"/>
<polyline points="679.9,452.7 684.1,455.2 689.1,456.8"/>
<polyline points="664,453.5 669,454.3 674,455.2 679.9,456.8 685.7,459.4 691.6,462.7 696.6,466 700,467.7"/>
<polyline points="700,467.7 703.3,466 710,462.7 714.2,464.4 716.7,469.4 717.5,474.4"/>
<polyline points="700,467.7 699.1,473.6 700,477.8"/>
<polyline points="664,481.1 670.7,478.6 677.4,476.1 684.1,474.4 690.8,475.2 695.8,478.6 700,477.8"/>
<polyline points="700,481.1 698.3,487 697.5,492 695.8,496.2 694.1,500"/>
<polyline points="702.5,483.6 704.1,488.6 708.3,492 710.8,492.8"/>
<polyline points="698.3,487 704.1,488.6"/>
<polyline points="721.7,487.3 724.2,486.1"/>
<polyline points="723.4,492 727.6,488.6 730.9,488.6"/>
<polyline points="679.1,415 679.9,411.7 684.9,410"/>
<polyline points="538.7,405 540.4,410 537.9,413.4 537.1,418.4 538.7,421.7 537.1,426.7 534,427.6"/>
<polyline points="540.4,410 543.7,410.9 547.1,410"/>
<polyline points="547.1,442.6 550.4,441 555.5,437.6 559.6,435.9 563.8,433.4 566.3,430.1"/>
<polyline points="547.1,442.6 549.6,445.1 552.1,446.8 552.9,450.2 554.6,454.3 557.1,456.8"/>
<polyline points="552.1,446.8 557.1,443.8 563,443.1 566.3,445.1 568,449.3 567.2,453.5 563.8,456 559.6,456.8 557.1,456.8"/>
<polyline points="563.8,433.4 568.8,434.3 572.2,432.6 575.5,432.6"/>
<polyline points="572.2,432.6 573.8,437.6 575.5,441.8 578,445.1 580.5,445.1"/>
<polyline points="567.2,453.5 572.2,455.2 577.2,454.3 580.5,453.5 582.2,451"/>
<polyline points="557.1,456.8 555.5,460.2 556.3,465.2 558,470.2 555.5,472.7 551.3,475.2 547.1,476.9 542.1,481.1 538.7,478.6 535,477.8"/>
<polyline points="527.9,454.8 526.2,458.5 525.3,462.7 528.7,466.9 532.9,471.1 537.1,475.2 542.1,481.1"/>
<polyline points="558,470.2 563,473.6 568,476.9 573,480.3 575.5,481.1 577.2,473.6"/>
<polyline points="575.5,481.1 574.7,487 573.8,492 572.2,496.2 570.5,500"/>
<polyline points="579.7,476.1 584.7,476.9 590.6,478.6 595.6,480.3 599.8,483.6 600.6,486.1"/>
<polyline points="590.6,495.3 586.4,496.2 580.5,497 575.5,496.2 573.8,492"/>
<polyline points="592.2,469.4 595.6,467.7"/>
<polyline points="598.6,465.2 602.3,461.9 605.6,459.4 609,456"/>
<polyline points="609,456 613.2,458.5 615.7,458.5"/>
<polyline points="618.2,461.9 619,466.9 619.8,471.9 617.3,476.1 614,479.4 613.2,482.8 610.6,486.1"/>
<polyline points="619.8,471.9 624,473.6 629,472.7 631.6,470.2 630.7,466 631.6,464.4"/>
<polyline points="622.4,462.7 623.2,467.7 624,473.6"/>
<polyline points="629,472.7 630.7,477.8 631.6,482.8 630.7,487 632.4,492 637.4,491.1 642.4,489.5 646.6,485.3"/>
<polyline points="637.4,469.4 639.1,473.6 642.4,476.9 645.8,480.3"/>
<polyline points="614,479.4 619,481.1 624,481.9 629,482.8 631.6,482.8"/>
<polyline points="615.7,492.8 622.4,493.6 627.4,492.8 632.4,492"/>
<polyline points="600.6,405 604,407.5 609,406.7 613.2,408.3 615.7,411.7 614.8,416.7 614,421.7 612.3,425.1"/>
<polyline points="615.7,411.7 620.7,410 625.7,409.2 629,405"/>
<polyline points="625.7,409.2 626.5,414.2 624,418.4 621.5,421.7 619,423.7"/>
<polyline points="626.5,414.2 631.6,416.7 635.7,420.1 639.1,423.4 641.6,426.7 641.6,430.1"/>
<polyline points="635.7,420.1 639.1,416.7 642.4,413.4 641.6,408.3 640.7,405"/>
<polyline points="642.4,413.4 647.4,415 651.6,413.4 653.3,412.5"/>
<polyline points="639.1,423.4 642.4,420.9 645.8,422.6 648.3,426.7"/>
<polyline points="621.5,421.7 624,425.1 622.4,428.4"/>
<polyline points="589.7,413.4 592.2,416.7 595.6,419.2 598.1,421.7"/>
<polyline points="598.1,407.5 600.6,411.7 604,415 605.6,421.7"/>
<polyline points="604,415 609,414.2 614.8,416.7"/>
<polyline points="421.8,400 424.3,400.8 430.2,401.7 434.4,405"/>
<polyline points="435.2,400 437.7,403.3 438.5,405.9"/>
<polyline points="446.9,410 448.6,407.5"/>
<polyline points="462,409.2 465.3,411.7 467.8,415.9 466.1,418.4 462.8,417.6"/>
<polyline points="463.6,425.9 466.1,430.9"/>
<polyline points="471.2,438.5 473.7,433.5 477,428.4 480.4,425.1 484.5,421.7 487,416.7 490.4,413.4 491.2,408.4 490.4,403.3 488.7,400"/>
<polyline points="494.6,410.9 495.4,416.7 496.2,423.4 498.7,428.4 503.8,430.9 508.8,430.1 512.1,427.6 513,428.4"/>
<polyline points="490.4,413.4 494.6,410.9"/>
<polyline points="494.6,410.9 497.1,406.7 500.4,403.3 502.9,400"/>
<polyline points="502.9,406.7 507.1,407.5 512.1,406.7 514.6,402.5"/>
<polyline points="450.2,400 451.9,403.3 453.6,405.9"/>
<polyline points="458.6,400 459.4,403.3 458.6,406.7"/>
<polyline points="574.5,489.7 573.7,495.6"/>
<polyline points="616.3,506.5 619.7,508.1 622,509"/>
<polyline points="616.7,509 621.7,506.5 627.6,505.6 633.5,506.5 638.5,507.3 645.2,509.8"/>
<polyline points="698.7,478 701.2,478.9"/>
<polyline points="698.7,478 699.5,483 698.7,488.1 696.2,492.2 693.7,496.4 688.6,499.8 683.6,501.4 682.8,505.6 683.6,508.1"/>
<polyline points="698.7,488.1 702.9,489.7 707,490.6 709.6,492.2"/>
<polyline points="696.2,492.2 697.8,497.3 700.4,501.4 703.7,504.8 706.2,505.6"/>
<polyline points="693.7,496.4 695.3,500.6 698.7,504.8 700.4,509 702,514.8"/>
<polyline points="705.4,510.6 703.7,504.8"/>
<polyline points="722.9,487.2 723.8,494.7 721.3,499.8"/>
<polyline points="722.9,509.8 723.8,513.1"/>
<polyline points="468.3,173.6 470.1,177.2 471.9,181.9 471.3,185.4 468.3,187.8 466,191.3 465.2,195"/>
<polyline points="484.9,159.5 485.4,164.2 486.6,168.3 490.8,169.5 494.9,168.9 496.7,165.4 498.4,162.4 502.5,160.7 507.3,161.2 510.8,163 514.3,162.4"/>
<polyline points="514.3,162.4 513.2,165.4 514.3,168.9 513.2,171.3 509.6,173 506.1,174.2 502.5,176 499,177.8 496.1,179.5 494.3,183.1 495.5,186.6 497.8,190.1 500.2,193.7 500.7,195"/>
<polyline points="514.3,168.9 517.9,170.1 520,170.7"/>
<polyline points="514.3,162.4 516.7,161.2 520,161.8"/>
<polyline points="500.2,151.8 502.5,153.6 506.1,153 508.4,154.8 510.8,158.3 514.3,161.2"/>
<polyline points="486,193.1 487.8,194.9 487.9,195"/>
<polyline points="420,200.3 423.5,199.1 427.1,197.9 428.8,195"/>
<polyline points="427.1,197.9 429.4,201.5 428.8,205.6 426.5,208 427.1,211.5 428.3,212.7"/>
<polyline points="428.8,205.6 433,206.2 437.1,205 438.9,202.1 440.6,199.7 443.6,197.4"/>
<polyline points="437.1,205 437.7,208.6 435.9,212.1"/>
<polyline points="454.2,202.7 456.6,200.9 460.1,199.7 463.6,196.8 465.4,195"/>
<polyline points="457.7,208 461.3,206.8 464.8,205 468.3,204.2 471.9,205 475.4,206.2 479,208 481.3,210.3 481.3,213.9"/>
<polyline points="457.7,208 458.3,211.5 460.7,215.6"/>
<polyline points="484.3,195 484.9,199.7 485.4,204.4 484.3,209.2 482.5,212.7 481.3,213.9"/>
<polyline points="485.4,204.4 488.4,208 490.8,211.5 493.7,215 496.7,216.8 497.8,213.9 497.8,209.7"/>
<polyline points="489,195 490.8,198.5 492.5,202.1 494.3,205.6 496.7,206.8"/>
<polyline points="482.5,218 485.4,220.4 487.8,223.9 490.8,227.4 493.7,229.2 496.7,230.4 496.8,230.4"/>
<polyline points="496.7,216.8 500.2,218 504.3,219.2"/>
<polyline points="493.7,215 492.5,218.6 493.1,222.1 495.5,224.5 496.8,225.8"/>
<polyline points="481.3,225.9 484.3,224.5 486.6,225.1 487.8,223.9"/>
<polyline points="481.9,229.2 484.9,230.4 486.6,232.7 485.4,235.7 482.5,236.9 479.6,235.7"/>
<polyline points="486.6,232.7 490.8,233.9 494.3,235.7 496.8,236.1"/>
<polyline points="480.1,238.6 483.7,240.4 487.2,241.6 490.8,242.8 494.3,242.2 496.8,240.6"/>
<polyline points="480.1,238.6 479.6,235.7"/>
<polyline points="480.1,238.6 478.4,241.6 476.6,244.5 477.8,247.5"/>
<polyline points="476.6,236.9 475.4,239.8 476.6,244.5"/>
<polyline points="463.4,237.5 465.4,240.4 467.2,243.3 468.9,246.3 470.7,248.7 474.2,252.8"/>
<polyline points="464.8,233.7 464.2,235.7 463.4,237.5"/>
<polyline points="467.2,232.7 469.5,235.7 471.9,238.6 473.7,241.6 474.8,244.5 476.6,244.5"/>
<polyline points="450.1,236.3 452.4,235.7"/>
<polyline points="448.3,239.2 451.2,241 455.4,241.6 458.9,242.2 460.7,244.5 461.9,247.5 463,250.4 465.4,251.6 467.2,251 470.7,248.7"/>
<polyline points="458.9,242.2 461.9,239.8"/>
<polyline points="444.2,244.5 447.1,243.3 450.7,242.2 451.2,241"/>
<polyline points="438.9,249.2 441.8,251 443.6,254 445.4,257.5 446.5,262"/>
<polyline points="463,250.4 461.9,254 460.1,256.9 458.9,259.9 458.3,262"/>
<polyline points="465.4,251.6 466.6,255.1 468.3,258.1 470.7,258.7"/>
<polyline points="424.7,233.9 427.1,232.7 430,232.1 432.4,232.1"/>
<polyline points="430,232.1 431.2,235.7 433,238.6 435.3,240.4 437.7,242.2"/>
<polyline points="427.1,232.7 426.5,236.3 428.3,239.2 430.6,241.6 431.8,245.1 433.6,247.5"/>
<polyline points="421.2,239.6 423.5,241 425.9,243.3"/>
<polyline points="428.8,249.2 431.8,250.4"/>
<polyline points="427.1,252.2 429.4,255.1 432.4,254"/>
<polyline points="424.1,254 423.5,257.5 422.9,262"/>
<polyline points="490.8,242.8 491.9,246.9 490.8,251.6"/>
<polyline points="512.6,207.4 515.5,206.2 518.5,206.8 520,208"/>
<polyline points="512,203.8 514.3,201.5 516.7,198.5 517.9,195"/>
<polyline points="511.4,210.3 514.3,212.7 516.7,215.6 516.1,218.6 515.5,220.4"/>
<polyline points="516.7,223.9 520,223.3"/>
<polyline points="501.4,195 502.5,197.9 502.5,202.1"/>
<polyline points="506.7,201.5 505.5,197.9 506.1,195"/>
<polyline points="525.7,238 529.8,233.8 533.3,230.3"/>
<polyline points="500.3,233.8 504.5,235 507.4,234.2"/>
<polyline points="499.7,236.8 502.7,239.7"/>
<polyline points="515.1,226.8 516.8,229.7 518.6,233.3 520.4,238"/>
<polyline points="513.9,229.7 516.8,229.7"/>
<polyline points="500.3,270.4 504.5,273.3"/>
<polyline points="507.4,276.9 508.6,280.4 510.9,280.4"/>
<polyline points="503.3,284 505,281.6 508.6,280.4"/>
<polyline points="532.8,227.4 535.7,229.1 539.2,232.1 541,235.6"/>
</g>
</g>
<rect x="10.5" y="381.5" width="112" height="149.5" fill="#fff" stroke="#9a9a9a" stroke-width="1"/>
<text x="18.5" y="399" font-size="12" font-weight="bold" fill="#333" textLength="64" lengthAdjust="spacingAndGlyphs">Tasso x 10000</text>
<rect x="19.1" y="407.3" width="13.9" height="13.4" fill="#f98c0a"/>
<text x="39.6" y="420.0" font-size="15.2" fill="#333" stroke="#333" stroke-width="0.3" textLength="34.7" lengthAdjust="spacingAndGlyphs">&lt; 382.7</text>
<rect x="19.1" y="422.3" width="13.9" height="13.4" fill="#f1731d"/>
<text x="39.6" y="435.0" font-size="15.2" fill="#333" stroke="#333" stroke-width="0.3" textLength="65.8" lengthAdjust="spacingAndGlyphs">382.7 - 434.2</text>
<rect x="19.1" y="437.3" width="13.9" height="13.4" fill="#db503b"/>
<text x="39.6" y="450.0" font-size="15.2" fill="#333" stroke="#333" stroke-width="0.3" textLength="64.9" lengthAdjust="spacingAndGlyphs">434.3 - 472.8</text>
<rect x="19.1" y="452.3" width="13.9" height="13.4" fill="#b73557"/>
<text x="39.6" y="465.0" font-size="15.2" fill="#333" stroke="#333" stroke-width="0.3" textLength="68.2" lengthAdjust="spacingAndGlyphs">472.9 - 500.9</text>
<rect x="19.1" y="467.3" width="13.9" height="13.4" fill="#9a2865"/>
<text x="39.6" y="480.0" font-size="15.2" fill="#333" stroke="#333" stroke-width="0.3" textLength="65.2" lengthAdjust="spacingAndGlyphs">501.0 - 536.7</text>
<rect x="19.1" y="482.3" width="13.9" height="13.4" fill="#7a1d6d"/>
<text x="39.6" y="495.0" font-size="15.2" fill="#333" stroke="#333" stroke-width="0.3" textLength="64.6" lengthAdjust="spacingAndGlyphs">536.8 - 571.8</text>
<rect x="19.1" y="497.3" width="13.9" height="13.4" fill="#4f0d6c"/>
<text x="39.6" y="510.0" font-size="15.2" fill="#333" stroke="#333" stroke-width="0.3" textLength="56.8" lengthAdjust="spacingAndGlyphs">571.9 - 617.1</text>
<rect x="19.1" y="512.3" width="13.9" height="13.4" fill="#260c51"/>
<text x="39.6" y="525.0" font-size="15.2" fill="#333" stroke="#333" stroke-width="0.3" textLength="35.3" lengthAdjust="spacingAndGlyphs">&gt;=617.2</text>

</svg>
</body></html>
